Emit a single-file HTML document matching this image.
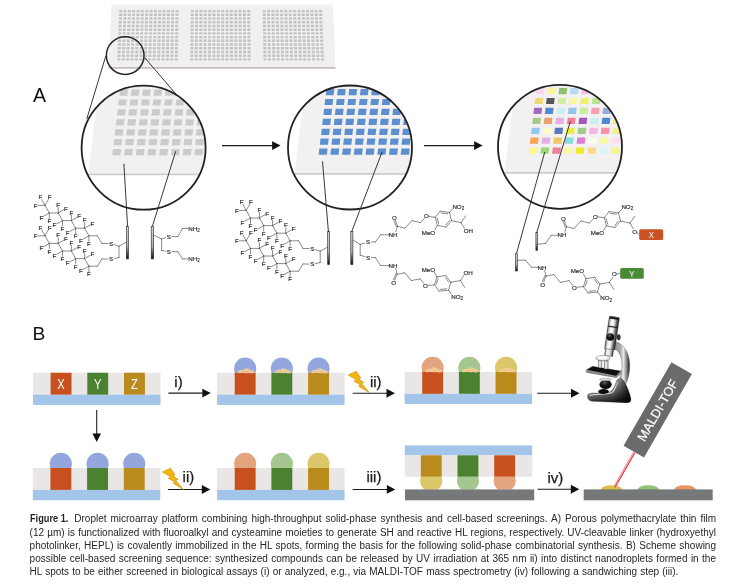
<!DOCTYPE html>
<html><head><meta charset="utf-8"><title>Figure 1</title>
<style>
html,body{margin:0;padding:0;background:#fff}
body{width:741px;height:586px;position:relative;overflow:hidden;font-family:"Liberation Sans", sans-serif}
svg{position:absolute;left:0;top:0;filter:blur(0.42px)}
.cl b{display:inline-block;transform:scaleX(.92);transform-origin:0 50%;margin-right:-5px}
.cl{filter:blur(0.3px);position:absolute;left:29.6px;height:13px;line-height:13px;font-size:10px;color:#262626;white-space:nowrap;text-align:justify;text-align-last:justify;font-family:"Liberation Sans", sans-serif}
</style></head><body>
<svg width="741" height="586" viewBox="0 0 741 586">
<defs>
<clipPath id="clip1"><circle cx="143.6" cy="147.7" r="61.6"/></clipPath>
<clipPath id="clip2"><circle cx="350.0" cy="147.5" r="61.6"/></clipPath>
<clipPath id="clip3"><circle cx="560.0" cy="146.8" r="61.6"/></clipPath>
<linearGradient id="barg" x1="0" y1="0" x2="0" y2="1"><stop offset="0" stop-color="#d2d2d2"/><stop offset="0.6" stop-color="#b4b4b4"/><stop offset="0.84" stop-color="#4a4a4a"/><stop offset="1" stop-color="#0c0c0c"/></linearGradient>
<clipPath id="dc217_372_0"><rect x="232.7" y="352.75" width="24.9" height="20"/></clipPath>
<clipPath id="dc217_372_1"><rect x="269.4" y="352.75" width="24.9" height="20"/></clipPath>
<clipPath id="dc217_372_2"><rect x="306.1" y="352.75" width="24.9" height="20"/></clipPath>
<clipPath id="dc404_371_0"><rect x="420.20000000000005" y="351.9" width="24.9" height="20"/></clipPath>
<clipPath id="dc404_371_1"><rect x="456.90000000000003" y="351.9" width="24.9" height="20"/></clipPath>
<clipPath id="dc404_371_2"><rect x="493.6" y="351.9" width="24.9" height="20"/></clipPath>
<clipPath id="dc32_468_0"><rect x="48.4" y="448.0" width="24.9" height="20"/></clipPath>
<clipPath id="dc32_468_1"><rect x="85.1" y="448.0" width="24.9" height="20"/></clipPath>
<clipPath id="dc32_468_2"><rect x="121.80000000000001" y="448.0" width="24.9" height="20"/></clipPath>
<clipPath id="dc217_468_0"><rect x="232.7" y="448.0" width="24.9" height="20"/></clipPath>
<clipPath id="dc217_468_1"><rect x="269.4" y="448.0" width="24.9" height="20"/></clipPath>
<clipPath id="dc217_468_2"><rect x="306.1" y="448.0" width="24.9" height="20"/></clipPath>
<clipPath id="sw0"><rect x="418.8" y="476.69999999999993" width="24.9" height="12.70"/></clipPath>
<clipPath id="sw1"><rect x="455.5" y="476.69999999999993" width="24.9" height="12.70"/></clipPath>
<clipPath id="sw2"><rect x="492.20000000000005" y="476.69999999999993" width="24.9" height="12.70"/></clipPath>
<linearGradient id="mtube" x1="0" y1="0" x2="1" y2="0"><stop offset="0" stop-color="#333"/><stop offset="0.08" stop-color="#999"/><stop offset="0.25" stop-color="#efefef"/><stop offset="0.45" stop-color="#fdfdfd"/><stop offset="0.62" stop-color="#c8c8c8"/><stop offset="0.78" stop-color="#6a6a6a"/><stop offset="1" stop-color="#1c1c1c"/></linearGradient>
<linearGradient id="mtube2" x1="0" y1="0" x2="1" y2="0"><stop offset="0" stop-color="#555"/><stop offset="0.2" stop-color="#f4f4f4"/><stop offset="0.6" stop-color="#e0e0e0"/><stop offset="0.85" stop-color="#777"/><stop offset="1" stop-color="#222"/></linearGradient>
<linearGradient id="marm" x1="0" y1="0" x2="1" y2="0"><stop offset="0" stop-color="#8a8a8a"/><stop offset="0.45" stop-color="#a8a8a8"/><stop offset="0.62" stop-color="#ececec"/><stop offset="0.78" stop-color="#9a9a9a"/><stop offset="1" stop-color="#1e1e1e"/></linearGradient>
<linearGradient id="mbase" x1="0" y1="0" x2="0.3" y2="1"><stop offset="0" stop-color="#e8e8e8"/><stop offset="0.3" stop-color="#b0b0b0"/><stop offset="0.65" stop-color="#6c6c6c"/><stop offset="1" stop-color="#222"/></linearGradient>
<radialGradient id="mball" cx="0.4" cy="0.3" r="0.75"><stop offset="0" stop-color="#5a5a5a"/><stop offset="0.45" stop-color="#161616"/><stop offset="1" stop-color="#000"/></radialGradient>
<linearGradient id="mobj" x1="0" y1="0" x2="1" y2="0"><stop offset="0" stop-color="#888"/><stop offset="0.4" stop-color="#fff"/><stop offset="1" stop-color="#999"/></linearGradient>
<linearGradient id="mhump" x1="0" y1="0" x2="1" y2="0"><stop offset="0" stop-color="#000" stop-opacity="0"/><stop offset="0.45" stop-color="#000" stop-opacity="0.35"/><stop offset="1" stop-color="#000" stop-opacity="0.85"/></linearGradient>
</defs>
<polygon points="111.6,4.4 332.9,4.4 335.4,67.4 108.4,67.4" fill="#f1eff0"/>
<polygon points="108.4,66.9 335.4,66.9 335.5,68.7 108.3,68.7" fill="#c6bfbf"/>
<path d="M119.27,9.90h2.96v2.4h-2.96zM123.61,9.90h2.96v2.4h-2.96zM127.94,9.90h2.96v2.4h-2.96zM132.28,9.90h2.96v2.4h-2.96zM136.61,9.90h2.96v2.4h-2.96zM140.94,9.90h2.96v2.4h-2.96zM145.28,9.90h2.96v2.4h-2.96zM149.61,9.90h2.96v2.4h-2.96zM153.95,9.90h2.96v2.4h-2.96zM158.28,9.90h2.96v2.4h-2.96zM162.62,9.90h2.96v2.4h-2.96zM166.95,9.90h2.96v2.4h-2.96zM171.29,9.90h2.96v2.4h-2.96zM175.62,9.90h2.96v2.4h-2.96zM119.12,13.62h2.96v2.4h-2.96zM123.46,13.62h2.96v2.4h-2.96zM127.80,13.62h2.96v2.4h-2.96zM132.14,13.62h2.96v2.4h-2.96zM136.48,13.62h2.96v2.4h-2.96zM140.82,13.62h2.96v2.4h-2.96zM145.16,13.62h2.96v2.4h-2.96zM149.50,13.62h2.96v2.4h-2.96zM153.85,13.62h2.96v2.4h-2.96zM158.19,13.62h2.96v2.4h-2.96zM162.53,13.62h2.96v2.4h-2.96zM166.87,13.62h2.96v2.4h-2.96zM171.21,13.62h2.96v2.4h-2.96zM175.55,13.62h2.96v2.4h-2.96zM118.96,17.33h2.97v2.4h-2.97zM123.31,17.33h2.97v2.4h-2.97zM127.66,17.33h2.97v2.4h-2.97zM132.01,17.33h2.97v2.4h-2.97zM136.35,17.33h2.97v2.4h-2.97zM140.70,17.33h2.97v2.4h-2.97zM145.05,17.33h2.97v2.4h-2.97zM149.40,17.33h2.97v2.4h-2.97zM153.74,17.33h2.97v2.4h-2.97zM158.09,17.33h2.97v2.4h-2.97zM162.44,17.33h2.97v2.4h-2.97zM166.79,17.33h2.97v2.4h-2.97zM171.13,17.33h2.97v2.4h-2.97zM175.48,17.33h2.97v2.4h-2.97zM118.81,21.05h2.97v2.4h-2.97zM123.16,21.05h2.97v2.4h-2.97zM127.52,21.05h2.97v2.4h-2.97zM131.87,21.05h2.97v2.4h-2.97zM136.22,21.05h2.97v2.4h-2.97zM140.58,21.05h2.97v2.4h-2.97zM144.93,21.05h2.97v2.4h-2.97zM149.29,21.05h2.97v2.4h-2.97zM153.64,21.05h2.97v2.4h-2.97zM158.00,21.05h2.97v2.4h-2.97zM162.35,21.05h2.97v2.4h-2.97zM166.70,21.05h2.97v2.4h-2.97zM171.06,21.05h2.97v2.4h-2.97zM175.41,21.05h2.97v2.4h-2.97zM118.65,24.76h2.97v2.4h-2.97zM123.01,24.76h2.97v2.4h-2.97zM127.38,24.76h2.97v2.4h-2.97zM131.74,24.76h2.97v2.4h-2.97zM136.10,24.76h2.97v2.4h-2.97zM140.46,24.76h2.97v2.4h-2.97zM144.82,24.76h2.97v2.4h-2.97zM149.18,24.76h2.97v2.4h-2.97zM153.54,24.76h2.97v2.4h-2.97zM157.90,24.76h2.97v2.4h-2.97zM162.26,24.76h2.97v2.4h-2.97zM166.62,24.76h2.97v2.4h-2.97zM170.98,24.76h2.97v2.4h-2.97zM175.34,24.76h2.97v2.4h-2.97zM118.50,28.48h2.98v2.4h-2.98zM122.87,28.48h2.98v2.4h-2.98zM127.23,28.48h2.98v2.4h-2.98zM131.60,28.48h2.98v2.4h-2.98zM135.97,28.48h2.98v2.4h-2.98zM140.34,28.48h2.98v2.4h-2.98zM144.70,28.48h2.98v2.4h-2.98zM149.07,28.48h2.98v2.4h-2.98zM153.44,28.48h2.98v2.4h-2.98zM157.80,28.48h2.98v2.4h-2.98zM162.17,28.48h2.98v2.4h-2.98zM166.54,28.48h2.98v2.4h-2.98zM170.91,28.48h2.98v2.4h-2.98zM175.27,28.48h2.98v2.4h-2.98zM118.34,32.19h2.98v2.4h-2.98zM122.72,32.19h2.98v2.4h-2.98zM127.09,32.19h2.98v2.4h-2.98zM131.47,32.19h2.98v2.4h-2.98zM135.84,32.19h2.98v2.4h-2.98zM140.21,32.19h2.98v2.4h-2.98zM144.59,32.19h2.98v2.4h-2.98zM148.96,32.19h2.98v2.4h-2.98zM153.33,32.19h2.98v2.4h-2.98zM157.71,32.19h2.98v2.4h-2.98zM162.08,32.19h2.98v2.4h-2.98zM166.45,32.19h2.98v2.4h-2.98zM170.83,32.19h2.98v2.4h-2.98zM175.20,32.19h2.98v2.4h-2.98zM118.19,35.91h2.99v2.4h-2.99zM122.57,35.91h2.99v2.4h-2.99zM126.95,35.91h2.99v2.4h-2.99zM131.33,35.91h2.99v2.4h-2.99zM135.71,35.91h2.99v2.4h-2.99zM140.09,35.91h2.99v2.4h-2.99zM144.47,35.91h2.99v2.4h-2.99zM148.85,35.91h2.99v2.4h-2.99zM153.23,35.91h2.99v2.4h-2.99zM157.61,35.91h2.99v2.4h-2.99zM161.99,35.91h2.99v2.4h-2.99zM166.37,35.91h2.99v2.4h-2.99zM170.75,35.91h2.99v2.4h-2.99zM175.13,35.91h2.99v2.4h-2.99zM118.04,39.62h2.99v2.4h-2.99zM122.42,39.62h2.99v2.4h-2.99zM126.81,39.62h2.99v2.4h-2.99zM131.20,39.62h2.99v2.4h-2.99zM135.58,39.62h2.99v2.4h-2.99zM139.97,39.62h2.99v2.4h-2.99zM144.36,39.62h2.99v2.4h-2.99zM148.74,39.62h2.99v2.4h-2.99zM153.13,39.62h2.99v2.4h-2.99zM157.52,39.62h2.99v2.4h-2.99zM161.90,39.62h2.99v2.4h-2.99zM166.29,39.62h2.99v2.4h-2.99zM170.68,39.62h2.99v2.4h-2.99zM175.06,39.62h2.99v2.4h-2.99zM117.88,43.34h3.00v2.4h-3.00zM122.27,43.34h3.00v2.4h-3.00zM126.67,43.34h3.00v2.4h-3.00zM131.06,43.34h3.00v2.4h-3.00zM135.45,43.34h3.00v2.4h-3.00zM139.85,43.34h3.00v2.4h-3.00zM144.24,43.34h3.00v2.4h-3.00zM148.63,43.34h3.00v2.4h-3.00zM153.03,43.34h3.00v2.4h-3.00zM157.42,43.34h3.00v2.4h-3.00zM161.81,43.34h3.00v2.4h-3.00zM166.21,43.34h3.00v2.4h-3.00zM170.60,43.34h3.00v2.4h-3.00zM174.99,43.34h3.00v2.4h-3.00zM117.73,47.05h3.00v2.4h-3.00zM122.13,47.05h3.00v2.4h-3.00zM126.53,47.05h3.00v2.4h-3.00zM130.93,47.05h3.00v2.4h-3.00zM135.33,47.05h3.00v2.4h-3.00zM139.73,47.05h3.00v2.4h-3.00zM144.13,47.05h3.00v2.4h-3.00zM148.52,47.05h3.00v2.4h-3.00zM152.92,47.05h3.00v2.4h-3.00zM157.32,47.05h3.00v2.4h-3.00zM161.72,47.05h3.00v2.4h-3.00zM166.12,47.05h3.00v2.4h-3.00zM170.52,47.05h3.00v2.4h-3.00zM174.92,47.05h3.00v2.4h-3.00zM117.57,50.76h3.01v2.4h-3.01zM121.98,50.76h3.01v2.4h-3.01zM126.39,50.76h3.01v2.4h-3.01zM130.79,50.76h3.01v2.4h-3.01zM135.20,50.76h3.01v2.4h-3.01zM139.60,50.76h3.01v2.4h-3.01zM144.01,50.76h3.01v2.4h-3.01zM148.42,50.76h3.01v2.4h-3.01zM152.82,50.76h3.01v2.4h-3.01zM157.23,50.76h3.01v2.4h-3.01zM161.63,50.76h3.01v2.4h-3.01zM166.04,50.76h3.01v2.4h-3.01zM170.45,50.76h3.01v2.4h-3.01zM174.85,50.76h3.01v2.4h-3.01zM117.42,54.48h3.01v2.4h-3.01zM121.83,54.48h3.01v2.4h-3.01zM126.24,54.48h3.01v2.4h-3.01zM130.66,54.48h3.01v2.4h-3.01zM135.07,54.48h3.01v2.4h-3.01zM139.48,54.48h3.01v2.4h-3.01zM143.89,54.48h3.01v2.4h-3.01zM148.31,54.48h3.01v2.4h-3.01zM152.72,54.48h3.01v2.4h-3.01zM157.13,54.48h3.01v2.4h-3.01zM161.55,54.48h3.01v2.4h-3.01zM165.96,54.48h3.01v2.4h-3.01zM170.37,54.48h3.01v2.4h-3.01zM174.78,54.48h3.01v2.4h-3.01zM117.26,58.20h3.01v2.4h-3.01zM121.68,58.20h3.01v2.4h-3.01zM126.10,58.20h3.01v2.4h-3.01zM130.52,58.20h3.01v2.4h-3.01zM134.94,58.20h3.01v2.4h-3.01zM139.36,58.20h3.01v2.4h-3.01zM143.78,58.20h3.01v2.4h-3.01zM148.20,58.20h3.01v2.4h-3.01zM152.62,58.20h3.01v2.4h-3.01zM157.04,58.20h3.01v2.4h-3.01zM161.46,58.20h3.01v2.4h-3.01zM165.87,58.20h3.01v2.4h-3.01zM170.29,58.20h3.01v2.4h-3.01zM174.71,58.20h3.01v2.4h-3.01zM190.83,9.90h2.96v2.4h-2.96zM195.16,9.90h2.96v2.4h-2.96zM199.50,9.90h2.96v2.4h-2.96zM203.83,9.90h2.96v2.4h-2.96zM208.17,9.90h2.96v2.4h-2.96zM212.50,9.90h2.96v2.4h-2.96zM216.84,9.90h2.96v2.4h-2.96zM221.17,9.90h2.96v2.4h-2.96zM225.51,9.90h2.96v2.4h-2.96zM229.84,9.90h2.96v2.4h-2.96zM234.18,9.90h2.96v2.4h-2.96zM238.51,9.90h2.96v2.4h-2.96zM242.85,9.90h2.96v2.4h-2.96zM247.18,9.90h2.96v2.4h-2.96zM190.78,13.62h2.96v2.4h-2.96zM195.12,13.62h2.96v2.4h-2.96zM199.47,13.62h2.96v2.4h-2.96zM203.81,13.62h2.96v2.4h-2.96zM208.15,13.62h2.96v2.4h-2.96zM212.49,13.62h2.96v2.4h-2.96zM216.83,13.62h2.96v2.4h-2.96zM221.17,13.62h2.96v2.4h-2.96zM225.51,13.62h2.96v2.4h-2.96zM229.85,13.62h2.96v2.4h-2.96zM234.19,13.62h2.96v2.4h-2.96zM238.54,13.62h2.96v2.4h-2.96zM242.88,13.62h2.96v2.4h-2.96zM247.22,13.62h2.96v2.4h-2.96zM190.74,17.33h2.97v2.4h-2.97zM195.08,17.33h2.97v2.4h-2.97zM199.43,17.33h2.97v2.4h-2.97zM203.78,17.33h2.97v2.4h-2.97zM208.13,17.33h2.97v2.4h-2.97zM212.47,17.33h2.97v2.4h-2.97zM216.82,17.33h2.97v2.4h-2.97zM221.17,17.33h2.97v2.4h-2.97zM225.52,17.33h2.97v2.4h-2.97zM229.86,17.33h2.97v2.4h-2.97zM234.21,17.33h2.97v2.4h-2.97zM238.56,17.33h2.97v2.4h-2.97zM242.91,17.33h2.97v2.4h-2.97zM247.26,17.33h2.97v2.4h-2.97zM190.69,21.05h2.97v2.4h-2.97zM195.04,21.05h2.97v2.4h-2.97zM199.40,21.05h2.97v2.4h-2.97zM203.75,21.05h2.97v2.4h-2.97zM208.11,21.05h2.97v2.4h-2.97zM212.46,21.05h2.97v2.4h-2.97zM216.81,21.05h2.97v2.4h-2.97zM221.17,21.05h2.97v2.4h-2.97zM225.52,21.05h2.97v2.4h-2.97zM229.88,21.05h2.97v2.4h-2.97zM234.23,21.05h2.97v2.4h-2.97zM238.58,21.05h2.97v2.4h-2.97zM242.94,21.05h2.97v2.4h-2.97zM247.29,21.05h2.97v2.4h-2.97zM190.64,24.76h2.97v2.4h-2.97zM195.00,24.76h2.97v2.4h-2.97zM199.36,24.76h2.97v2.4h-2.97zM203.72,24.76h2.97v2.4h-2.97zM208.08,24.76h2.97v2.4h-2.97zM212.45,24.76h2.97v2.4h-2.97zM216.81,24.76h2.97v2.4h-2.97zM221.17,24.76h2.97v2.4h-2.97zM225.53,24.76h2.97v2.4h-2.97zM229.89,24.76h2.97v2.4h-2.97zM234.25,24.76h2.97v2.4h-2.97zM238.61,24.76h2.97v2.4h-2.97zM242.97,24.76h2.97v2.4h-2.97zM247.33,24.76h2.97v2.4h-2.97zM190.60,28.48h2.98v2.4h-2.98zM194.96,28.48h2.98v2.4h-2.98zM199.33,28.48h2.98v2.4h-2.98zM203.70,28.48h2.98v2.4h-2.98zM208.06,28.48h2.98v2.4h-2.98zM212.43,28.48h2.98v2.4h-2.98zM216.80,28.48h2.98v2.4h-2.98zM221.17,28.48h2.98v2.4h-2.98zM225.53,28.48h2.98v2.4h-2.98zM229.90,28.48h2.98v2.4h-2.98zM234.27,28.48h2.98v2.4h-2.98zM238.63,28.48h2.98v2.4h-2.98zM243.00,28.48h2.98v2.4h-2.98zM247.37,28.48h2.98v2.4h-2.98zM190.55,32.19h2.98v2.4h-2.98zM194.92,32.19h2.98v2.4h-2.98zM199.30,32.19h2.98v2.4h-2.98zM203.67,32.19h2.98v2.4h-2.98zM208.04,32.19h2.98v2.4h-2.98zM212.42,32.19h2.98v2.4h-2.98zM216.79,32.19h2.98v2.4h-2.98zM221.16,32.19h2.98v2.4h-2.98zM225.54,32.19h2.98v2.4h-2.98zM229.91,32.19h2.98v2.4h-2.98zM234.28,32.19h2.98v2.4h-2.98zM238.66,32.19h2.98v2.4h-2.98zM243.03,32.19h2.98v2.4h-2.98zM247.41,32.19h2.98v2.4h-2.98zM190.50,35.91h2.99v2.4h-2.99zM194.88,35.91h2.99v2.4h-2.99zM199.26,35.91h2.99v2.4h-2.99zM203.64,35.91h2.99v2.4h-2.99zM208.02,35.91h2.99v2.4h-2.99zM212.40,35.91h2.99v2.4h-2.99zM216.78,35.91h2.99v2.4h-2.99zM221.16,35.91h2.99v2.4h-2.99zM225.54,35.91h2.99v2.4h-2.99zM229.92,35.91h2.99v2.4h-2.99zM234.30,35.91h2.99v2.4h-2.99zM238.68,35.91h2.99v2.4h-2.99zM243.06,35.91h2.99v2.4h-2.99zM247.44,35.91h2.99v2.4h-2.99zM190.45,39.62h2.99v2.4h-2.99zM194.84,39.62h2.99v2.4h-2.99zM199.23,39.62h2.99v2.4h-2.99zM203.61,39.62h2.99v2.4h-2.99zM208.00,39.62h2.99v2.4h-2.99zM212.39,39.62h2.99v2.4h-2.99zM216.77,39.62h2.99v2.4h-2.99zM221.16,39.62h2.99v2.4h-2.99zM225.55,39.62h2.99v2.4h-2.99zM229.93,39.62h2.99v2.4h-2.99zM234.32,39.62h2.99v2.4h-2.99zM238.71,39.62h2.99v2.4h-2.99zM243.09,39.62h2.99v2.4h-2.99zM247.48,39.62h2.99v2.4h-2.99zM190.41,43.34h3.00v2.4h-3.00zM194.80,43.34h3.00v2.4h-3.00zM199.19,43.34h3.00v2.4h-3.00zM203.59,43.34h3.00v2.4h-3.00zM207.98,43.34h3.00v2.4h-3.00zM212.37,43.34h3.00v2.4h-3.00zM216.77,43.34h3.00v2.4h-3.00zM221.16,43.34h3.00v2.4h-3.00zM225.55,43.34h3.00v2.4h-3.00zM229.95,43.34h3.00v2.4h-3.00zM234.34,43.34h3.00v2.4h-3.00zM238.73,43.34h3.00v2.4h-3.00zM243.12,43.34h3.00v2.4h-3.00zM247.52,43.34h3.00v2.4h-3.00zM190.36,47.05h3.00v2.4h-3.00zM194.76,47.05h3.00v2.4h-3.00zM199.16,47.05h3.00v2.4h-3.00zM203.56,47.05h3.00v2.4h-3.00zM207.96,47.05h3.00v2.4h-3.00zM212.36,47.05h3.00v2.4h-3.00zM216.76,47.05h3.00v2.4h-3.00zM221.16,47.05h3.00v2.4h-3.00zM225.56,47.05h3.00v2.4h-3.00zM229.96,47.05h3.00v2.4h-3.00zM234.36,47.05h3.00v2.4h-3.00zM238.76,47.05h3.00v2.4h-3.00zM243.16,47.05h3.00v2.4h-3.00zM247.56,47.05h3.00v2.4h-3.00zM190.31,50.76h3.01v2.4h-3.01zM194.72,50.76h3.01v2.4h-3.01zM199.12,50.76h3.01v2.4h-3.01zM203.53,50.76h3.01v2.4h-3.01zM207.94,50.76h3.01v2.4h-3.01zM212.34,50.76h3.01v2.4h-3.01zM216.75,50.76h3.01v2.4h-3.01zM221.16,50.76h3.01v2.4h-3.01zM225.56,50.76h3.01v2.4h-3.01zM229.97,50.76h3.01v2.4h-3.01zM234.37,50.76h3.01v2.4h-3.01zM238.78,50.76h3.01v2.4h-3.01zM243.19,50.76h3.01v2.4h-3.01zM247.59,50.76h3.01v2.4h-3.01zM190.27,54.48h3.01v2.4h-3.01zM194.68,54.48h3.01v2.4h-3.01zM199.09,54.48h3.01v2.4h-3.01zM203.50,54.48h3.01v2.4h-3.01zM207.92,54.48h3.01v2.4h-3.01zM212.33,54.48h3.01v2.4h-3.01zM216.74,54.48h3.01v2.4h-3.01zM221.15,54.48h3.01v2.4h-3.01zM225.57,54.48h3.01v2.4h-3.01zM229.98,54.48h3.01v2.4h-3.01zM234.39,54.48h3.01v2.4h-3.01zM238.80,54.48h3.01v2.4h-3.01zM243.22,54.48h3.01v2.4h-3.01zM247.63,54.48h3.01v2.4h-3.01zM190.22,58.20h3.01v2.4h-3.01zM194.64,58.20h3.01v2.4h-3.01zM199.06,58.20h3.01v2.4h-3.01zM203.48,58.20h3.01v2.4h-3.01zM207.90,58.20h3.01v2.4h-3.01zM212.31,58.20h3.01v2.4h-3.01zM216.73,58.20h3.01v2.4h-3.01zM221.15,58.20h3.01v2.4h-3.01zM225.57,58.20h3.01v2.4h-3.01zM229.99,58.20h3.01v2.4h-3.01zM234.41,58.20h3.01v2.4h-3.01zM238.83,58.20h3.01v2.4h-3.01zM243.25,58.20h3.01v2.4h-3.01zM247.67,58.20h3.01v2.4h-3.01zM262.69,9.90h2.96v2.4h-2.96zM267.02,9.90h2.96v2.4h-2.96zM271.36,9.90h2.96v2.4h-2.96zM275.69,9.90h2.96v2.4h-2.96zM280.03,9.90h2.96v2.4h-2.96zM284.36,9.90h2.96v2.4h-2.96zM288.70,9.90h2.96v2.4h-2.96zM293.03,9.90h2.96v2.4h-2.96zM297.37,9.90h2.96v2.4h-2.96zM301.70,9.90h2.96v2.4h-2.96zM306.04,9.90h2.96v2.4h-2.96zM310.37,9.90h2.96v2.4h-2.96zM314.71,9.90h2.96v2.4h-2.96zM319.04,9.90h2.96v2.4h-2.96zM262.75,13.62h2.96v2.4h-2.96zM267.09,13.62h2.96v2.4h-2.96zM271.43,13.62h2.96v2.4h-2.96zM275.77,13.62h2.96v2.4h-2.96zM280.12,13.62h2.96v2.4h-2.96zM284.46,13.62h2.96v2.4h-2.96zM288.80,13.62h2.96v2.4h-2.96zM293.14,13.62h2.96v2.4h-2.96zM297.48,13.62h2.96v2.4h-2.96zM301.82,13.62h2.96v2.4h-2.96zM306.16,13.62h2.96v2.4h-2.96zM310.50,13.62h2.96v2.4h-2.96zM314.84,13.62h2.96v2.4h-2.96zM319.19,13.62h2.96v2.4h-2.96zM262.81,17.33h2.97v2.4h-2.97zM267.16,17.33h2.97v2.4h-2.97zM271.51,17.33h2.97v2.4h-2.97zM275.85,17.33h2.97v2.4h-2.97zM280.20,17.33h2.97v2.4h-2.97zM284.55,17.33h2.97v2.4h-2.97zM288.90,17.33h2.97v2.4h-2.97zM293.24,17.33h2.97v2.4h-2.97zM297.59,17.33h2.97v2.4h-2.97zM301.94,17.33h2.97v2.4h-2.97zM306.29,17.33h2.97v2.4h-2.97zM310.64,17.33h2.97v2.4h-2.97zM314.98,17.33h2.97v2.4h-2.97zM319.33,17.33h2.97v2.4h-2.97zM262.87,21.05h2.97v2.4h-2.97zM267.23,21.05h2.97v2.4h-2.97zM271.58,21.05h2.97v2.4h-2.97zM275.93,21.05h2.97v2.4h-2.97zM280.29,21.05h2.97v2.4h-2.97zM284.64,21.05h2.97v2.4h-2.97zM289.00,21.05h2.97v2.4h-2.97zM293.35,21.05h2.97v2.4h-2.97zM297.71,21.05h2.97v2.4h-2.97zM302.06,21.05h2.97v2.4h-2.97zM306.41,21.05h2.97v2.4h-2.97zM310.77,21.05h2.97v2.4h-2.97zM315.12,21.05h2.97v2.4h-2.97zM319.48,21.05h2.97v2.4h-2.97zM262.93,24.76h2.97v2.4h-2.97zM267.29,24.76h2.97v2.4h-2.97zM271.65,24.76h2.97v2.4h-2.97zM276.01,24.76h2.97v2.4h-2.97zM280.38,24.76h2.97v2.4h-2.97zM284.74,24.76h2.97v2.4h-2.97zM289.10,24.76h2.97v2.4h-2.97zM293.46,24.76h2.97v2.4h-2.97zM297.82,24.76h2.97v2.4h-2.97zM302.18,24.76h2.97v2.4h-2.97zM306.54,24.76h2.97v2.4h-2.97zM310.90,24.76h2.97v2.4h-2.97zM315.26,24.76h2.97v2.4h-2.97zM319.62,24.76h2.97v2.4h-2.97zM262.99,28.48h2.98v2.4h-2.98zM267.36,28.48h2.98v2.4h-2.98zM271.73,28.48h2.98v2.4h-2.98zM276.10,28.48h2.98v2.4h-2.98zM280.46,28.48h2.98v2.4h-2.98zM284.83,28.48h2.98v2.4h-2.98zM289.20,28.48h2.98v2.4h-2.98zM293.56,28.48h2.98v2.4h-2.98zM297.93,28.48h2.98v2.4h-2.98zM302.30,28.48h2.98v2.4h-2.98zM306.67,28.48h2.98v2.4h-2.98zM311.03,28.48h2.98v2.4h-2.98zM315.40,28.48h2.98v2.4h-2.98zM319.77,28.48h2.98v2.4h-2.98zM263.05,32.19h2.98v2.4h-2.98zM267.43,32.19h2.98v2.4h-2.98zM271.80,32.19h2.98v2.4h-2.98zM276.18,32.19h2.98v2.4h-2.98zM280.55,32.19h2.98v2.4h-2.98zM284.92,32.19h2.98v2.4h-2.98zM289.30,32.19h2.98v2.4h-2.98zM293.67,32.19h2.98v2.4h-2.98zM298.04,32.19h2.98v2.4h-2.98zM302.42,32.19h2.98v2.4h-2.98zM306.79,32.19h2.98v2.4h-2.98zM311.16,32.19h2.98v2.4h-2.98zM315.54,32.19h2.98v2.4h-2.98zM319.91,32.19h2.98v2.4h-2.98zM263.12,35.91h2.99v2.4h-2.99zM267.50,35.91h2.99v2.4h-2.99zM271.88,35.91h2.99v2.4h-2.99zM276.26,35.91h2.99v2.4h-2.99zM280.64,35.91h2.99v2.4h-2.99zM285.02,35.91h2.99v2.4h-2.99zM289.40,35.91h2.99v2.4h-2.99zM293.78,35.91h2.99v2.4h-2.99zM298.16,35.91h2.99v2.4h-2.99zM302.54,35.91h2.99v2.4h-2.99zM306.92,35.91h2.99v2.4h-2.99zM311.30,35.91h2.99v2.4h-2.99zM315.68,35.91h2.99v2.4h-2.99zM320.06,35.91h2.99v2.4h-2.99zM263.18,39.62h2.99v2.4h-2.99zM267.56,39.62h2.99v2.4h-2.99zM271.95,39.62h2.99v2.4h-2.99zM276.34,39.62h2.99v2.4h-2.99zM280.72,39.62h2.99v2.4h-2.99zM285.11,39.62h2.99v2.4h-2.99zM289.50,39.62h2.99v2.4h-2.99zM293.88,39.62h2.99v2.4h-2.99zM298.27,39.62h2.99v2.4h-2.99zM302.66,39.62h2.99v2.4h-2.99zM307.04,39.62h2.99v2.4h-2.99zM311.43,39.62h2.99v2.4h-2.99zM315.82,39.62h2.99v2.4h-2.99zM320.20,39.62h2.99v2.4h-2.99zM263.24,43.34h3.00v2.4h-3.00zM267.63,43.34h3.00v2.4h-3.00zM272.02,43.34h3.00v2.4h-3.00zM276.42,43.34h3.00v2.4h-3.00zM280.81,43.34h3.00v2.4h-3.00zM285.20,43.34h3.00v2.4h-3.00zM289.60,43.34h3.00v2.4h-3.00zM293.99,43.34h3.00v2.4h-3.00zM298.38,43.34h3.00v2.4h-3.00zM302.77,43.34h3.00v2.4h-3.00zM307.17,43.34h3.00v2.4h-3.00zM311.56,43.34h3.00v2.4h-3.00zM315.95,43.34h3.00v2.4h-3.00zM320.35,43.34h3.00v2.4h-3.00zM263.30,47.05h3.00v2.4h-3.00zM267.70,47.05h3.00v2.4h-3.00zM272.10,47.05h3.00v2.4h-3.00zM276.50,47.05h3.00v2.4h-3.00zM280.90,47.05h3.00v2.4h-3.00zM285.30,47.05h3.00v2.4h-3.00zM289.70,47.05h3.00v2.4h-3.00zM294.09,47.05h3.00v2.4h-3.00zM298.49,47.05h3.00v2.4h-3.00zM302.89,47.05h3.00v2.4h-3.00zM307.29,47.05h3.00v2.4h-3.00zM311.69,47.05h3.00v2.4h-3.00zM316.09,47.05h3.00v2.4h-3.00zM320.49,47.05h3.00v2.4h-3.00zM263.36,50.76h3.01v2.4h-3.01zM267.76,50.76h3.01v2.4h-3.01zM272.17,50.76h3.01v2.4h-3.01zM276.58,50.76h3.01v2.4h-3.01zM280.98,50.76h3.01v2.4h-3.01zM285.39,50.76h3.01v2.4h-3.01zM289.80,50.76h3.01v2.4h-3.01zM294.20,50.76h3.01v2.4h-3.01zM298.61,50.76h3.01v2.4h-3.01zM303.01,50.76h3.01v2.4h-3.01zM307.42,50.76h3.01v2.4h-3.01zM311.83,50.76h3.01v2.4h-3.01zM316.23,50.76h3.01v2.4h-3.01zM320.64,50.76h3.01v2.4h-3.01zM263.42,54.48h3.01v2.4h-3.01zM267.83,54.48h3.01v2.4h-3.01zM272.24,54.48h3.01v2.4h-3.01zM276.66,54.48h3.01v2.4h-3.01zM281.07,54.48h3.01v2.4h-3.01zM285.48,54.48h3.01v2.4h-3.01zM289.89,54.48h3.01v2.4h-3.01zM294.31,54.48h3.01v2.4h-3.01zM298.72,54.48h3.01v2.4h-3.01zM303.13,54.48h3.01v2.4h-3.01zM307.55,54.48h3.01v2.4h-3.01zM311.96,54.48h3.01v2.4h-3.01zM316.37,54.48h3.01v2.4h-3.01zM320.78,54.48h3.01v2.4h-3.01zM263.48,58.20h3.01v2.4h-3.01zM267.90,58.20h3.01v2.4h-3.01zM272.32,58.20h3.01v2.4h-3.01zM276.74,58.20h3.01v2.4h-3.01zM281.16,58.20h3.01v2.4h-3.01zM285.58,58.20h3.01v2.4h-3.01zM289.99,58.20h3.01v2.4h-3.01zM294.41,58.20h3.01v2.4h-3.01zM298.83,58.20h3.01v2.4h-3.01zM303.25,58.20h3.01v2.4h-3.01zM307.67,58.20h3.01v2.4h-3.01zM312.09,58.20h3.01v2.4h-3.01zM316.51,58.20h3.01v2.4h-3.01zM320.93,58.20h3.01v2.4h-3.01z" fill="#c4c3c3"/>
<circle cx="125.2" cy="55.6" r="18.8" fill="none" stroke="#262626" stroke-width="1.5"/>
<path d="M105.8,56L86.8,118.8 M144.6,57.5L177.3,95.7" stroke="#2a2a2a" stroke-width="0.95" fill="none"/>
<circle cx="143.6" cy="147.7" r="62" fill="#fff"/>
<g clip-path="url(#clip1)"><g transform="translate(0,0)">
<polygon points="99.69,80 230,80 230,173.6 88.27,173.6" fill="#f2f0f1"/>
<polygon points="88.29,173.4 230,173.4 230,175.2 88.07,175.2" fill="#cfcbca"/>
<polygon points="120.07,89.50 127.97,89.50 127.23,95.70 119.33,95.70" fill="#cccbc9"/>
<polygon points="131.47,89.50 139.37,89.50 138.63,95.70 130.73,95.70" fill="#cccbc9"/>
<polygon points="142.87,89.50 150.77,89.50 150.03,95.70 142.13,95.70" fill="#cccbc9"/>
<polygon points="154.27,89.50 162.17,89.50 161.43,95.70 153.53,95.70" fill="#cccbc9"/>
<polygon points="165.67,89.50 173.57,89.50 172.83,95.70 164.93,95.70" fill="#cccbc9"/>
<polygon points="177.07,89.50 184.97,89.50 184.23,95.70 176.33,95.70" fill="#cccbc9"/>
<polygon points="188.47,89.50 196.37,89.50 195.63,95.70 187.73,95.70" fill="#cccbc9"/>
<polygon points="199.87,89.50 207.77,89.50 207.03,95.70 199.13,95.70" fill="#cccbc9"/>
<polygon points="211.27,89.50 219.17,89.50 218.43,95.70 210.53,95.70" fill="#cccbc9"/>
<polygon points="118.89,99.42 126.84,99.42 126.10,105.62 118.15,105.62" fill="#cccbc9"/>
<polygon points="130.34,99.42 138.29,99.42 137.56,105.62 129.61,105.62" fill="#cccbc9"/>
<polygon points="141.80,99.42 149.75,99.42 149.01,105.62 141.06,105.62" fill="#cccbc9"/>
<polygon points="153.25,99.42 161.20,99.42 160.47,105.62 152.52,105.62" fill="#cccbc9"/>
<polygon points="164.71,99.42 172.66,99.42 171.92,105.62 163.97,105.62" fill="#cccbc9"/>
<polygon points="176.16,99.42 184.11,99.42 183.38,105.62 175.43,105.62" fill="#cccbc9"/>
<polygon points="187.62,99.42 195.57,99.42 194.83,105.62 186.88,105.62" fill="#cccbc9"/>
<polygon points="199.07,99.42 207.02,99.42 206.29,105.62 198.34,105.62" fill="#cccbc9"/>
<polygon points="210.53,99.42 218.48,99.42 217.74,105.62 209.79,105.62" fill="#cccbc9"/>
<polygon points="117.71,109.34 125.71,109.34 124.97,115.54 116.97,115.54" fill="#cccbc9"/>
<polygon points="129.22,109.34 137.22,109.34 136.48,115.54 128.48,115.54" fill="#cccbc9"/>
<polygon points="140.73,109.34 148.73,109.34 147.99,115.54 139.99,115.54" fill="#cccbc9"/>
<polygon points="152.24,109.34 160.24,109.34 159.50,115.54 151.50,115.54" fill="#cccbc9"/>
<polygon points="163.75,109.34 171.75,109.34 171.01,115.54 163.01,115.54" fill="#cccbc9"/>
<polygon points="175.26,109.34 183.26,109.34 182.52,115.54 174.52,115.54" fill="#cccbc9"/>
<polygon points="186.77,109.34 194.77,109.34 194.03,115.54 186.03,115.54" fill="#cccbc9"/>
<polygon points="198.28,109.34 206.28,109.34 205.54,115.54 197.54,115.54" fill="#cccbc9"/>
<polygon points="209.79,109.34 217.79,109.34 217.05,115.54 209.05,115.54" fill="#cccbc9"/>
<polygon points="116.53,119.26 124.58,119.26 123.84,125.46 115.79,125.46" fill="#cccbc9"/>
<polygon points="128.09,119.26 136.14,119.26 135.41,125.46 127.36,125.46" fill="#cccbc9"/>
<polygon points="139.66,119.26 147.71,119.26 146.97,125.46 138.92,125.46" fill="#cccbc9"/>
<polygon points="151.22,119.26 159.27,119.26 158.54,125.46 150.49,125.46" fill="#cccbc9"/>
<polygon points="162.79,119.26 170.84,119.26 170.10,125.46 162.05,125.46" fill="#cccbc9"/>
<polygon points="174.35,119.26 182.40,119.26 181.67,125.46 173.62,125.46" fill="#cccbc9"/>
<polygon points="185.92,119.26 193.97,119.26 193.23,125.46 185.18,125.46" fill="#cccbc9"/>
<polygon points="197.48,119.26 205.53,119.26 204.80,125.46 196.75,125.46" fill="#cccbc9"/>
<polygon points="209.05,119.26 217.10,119.26 216.36,125.46 208.31,125.46" fill="#cccbc9"/>
<polygon points="115.35,129.18 123.45,129.18 122.71,135.38 114.61,135.38" fill="#cccbc9"/>
<polygon points="126.97,129.18 135.07,129.18 134.33,135.38 126.23,135.38" fill="#cccbc9"/>
<polygon points="138.59,129.18 146.69,129.18 145.95,135.38 137.85,135.38" fill="#cccbc9"/>
<polygon points="150.21,129.18 158.31,129.18 157.57,135.38 149.47,135.38" fill="#cccbc9"/>
<polygon points="161.83,129.18 169.93,129.18 169.19,135.38 161.09,135.38" fill="#cccbc9"/>
<polygon points="173.45,129.18 181.55,129.18 180.81,135.38 172.71,135.38" fill="#cccbc9"/>
<polygon points="185.07,129.18 193.17,129.18 192.43,135.38 184.33,135.38" fill="#cccbc9"/>
<polygon points="196.69,129.18 204.79,129.18 204.05,135.38 195.95,135.38" fill="#cccbc9"/>
<polygon points="208.31,129.18 216.41,129.18 215.67,135.38 207.57,135.38" fill="#cccbc9"/>
<polygon points="114.17,139.10 122.32,139.10 121.58,145.30 113.43,145.30" fill="#cccbc9"/>
<polygon points="125.84,139.10 133.99,139.10 133.26,145.30 125.11,145.30" fill="#cccbc9"/>
<polygon points="137.52,139.10 145.67,139.10 144.93,145.30 136.78,145.30" fill="#cccbc9"/>
<polygon points="149.19,139.10 157.34,139.10 156.61,145.30 148.46,145.30" fill="#cccbc9"/>
<polygon points="160.87,139.10 169.02,139.10 168.28,145.30 160.13,145.30" fill="#cccbc9"/>
<polygon points="172.54,139.10 180.69,139.10 179.96,145.30 171.81,145.30" fill="#cccbc9"/>
<polygon points="184.22,139.10 192.37,139.10 191.63,145.30 183.48,145.30" fill="#cccbc9"/>
<polygon points="195.89,139.10 204.04,139.10 203.31,145.30 195.16,145.30" fill="#cccbc9"/>
<polygon points="207.57,139.10 215.72,139.10 214.98,145.30 206.83,145.30" fill="#cccbc9"/>
<polygon points="112.99,149.02 121.19,149.02 120.45,155.22 112.25,155.22" fill="#cccbc9"/>
<polygon points="124.72,149.02 132.92,149.02 132.18,155.22 123.98,155.22" fill="#cccbc9"/>
<polygon points="136.45,149.02 144.65,149.02 143.91,155.22 135.71,155.22" fill="#cccbc9"/>
<polygon points="148.18,149.02 156.38,149.02 155.64,155.22 147.44,155.22" fill="#cccbc9"/>
<polygon points="159.91,149.02 168.11,149.02 167.37,155.22 159.17,155.22" fill="#cccbc9"/>
<polygon points="171.64,149.02 179.84,149.02 179.10,155.22 170.90,155.22" fill="#cccbc9"/>
<polygon points="183.37,149.02 191.57,149.02 190.83,155.22 182.63,155.22" fill="#cccbc9"/>
<polygon points="195.10,149.02 203.30,149.02 202.56,155.22 194.36,155.22" fill="#cccbc9"/>
<polygon points="206.83,149.02 215.03,149.02 214.29,155.22 206.09,155.22" fill="#cccbc9"/>
</g></g>
<circle cx="143.6" cy="147.7" r="62" fill="none" stroke="#222" stroke-width="1.8"/>
<circle cx="350.0" cy="147.5" r="62" fill="#fff"/>
<g clip-path="url(#clip2)"><g transform="translate(206.4,-0.5)">
<polygon points="99.69,80 230,80 230,173.6 88.27,173.6" fill="#f2f0f1"/>
<polygon points="88.29,173.4 230,173.4 230,175.2 88.07,175.2" fill="#cfcbca"/>
<polygon points="120.07,89.50 127.97,89.50 127.23,95.70 119.33,95.70" fill="#5b8fcf"/>
<polygon points="131.47,89.50 139.37,89.50 138.63,95.70 130.73,95.70" fill="#5b8fcf"/>
<polygon points="142.87,89.50 150.77,89.50 150.03,95.70 142.13,95.70" fill="#5b8fcf"/>
<polygon points="154.27,89.50 162.17,89.50 161.43,95.70 153.53,95.70" fill="#5b8fcf"/>
<polygon points="165.67,89.50 173.57,89.50 172.83,95.70 164.93,95.70" fill="#5b8fcf"/>
<polygon points="177.07,89.50 184.97,89.50 184.23,95.70 176.33,95.70" fill="#5b8fcf"/>
<polygon points="188.47,89.50 196.37,89.50 195.63,95.70 187.73,95.70" fill="#5b8fcf"/>
<polygon points="199.87,89.50 207.77,89.50 207.03,95.70 199.13,95.70" fill="#5b8fcf"/>
<polygon points="211.27,89.50 219.17,89.50 218.43,95.70 210.53,95.70" fill="#5b8fcf"/>
<polygon points="118.89,99.42 126.84,99.42 126.10,105.62 118.15,105.62" fill="#5b8fcf"/>
<polygon points="130.34,99.42 138.29,99.42 137.56,105.62 129.61,105.62" fill="#5b8fcf"/>
<polygon points="141.80,99.42 149.75,99.42 149.01,105.62 141.06,105.62" fill="#5b8fcf"/>
<polygon points="153.25,99.42 161.20,99.42 160.47,105.62 152.52,105.62" fill="#5b8fcf"/>
<polygon points="164.71,99.42 172.66,99.42 171.92,105.62 163.97,105.62" fill="#5b8fcf"/>
<polygon points="176.16,99.42 184.11,99.42 183.38,105.62 175.43,105.62" fill="#5b8fcf"/>
<polygon points="187.62,99.42 195.57,99.42 194.83,105.62 186.88,105.62" fill="#5b8fcf"/>
<polygon points="199.07,99.42 207.02,99.42 206.29,105.62 198.34,105.62" fill="#5b8fcf"/>
<polygon points="210.53,99.42 218.48,99.42 217.74,105.62 209.79,105.62" fill="#5b8fcf"/>
<polygon points="117.71,109.34 125.71,109.34 124.97,115.54 116.97,115.54" fill="#5b8fcf"/>
<polygon points="129.22,109.34 137.22,109.34 136.48,115.54 128.48,115.54" fill="#5b8fcf"/>
<polygon points="140.73,109.34 148.73,109.34 147.99,115.54 139.99,115.54" fill="#5b8fcf"/>
<polygon points="152.24,109.34 160.24,109.34 159.50,115.54 151.50,115.54" fill="#5b8fcf"/>
<polygon points="163.75,109.34 171.75,109.34 171.01,115.54 163.01,115.54" fill="#5b8fcf"/>
<polygon points="175.26,109.34 183.26,109.34 182.52,115.54 174.52,115.54" fill="#5b8fcf"/>
<polygon points="186.77,109.34 194.77,109.34 194.03,115.54 186.03,115.54" fill="#5b8fcf"/>
<polygon points="198.28,109.34 206.28,109.34 205.54,115.54 197.54,115.54" fill="#5b8fcf"/>
<polygon points="209.79,109.34 217.79,109.34 217.05,115.54 209.05,115.54" fill="#5b8fcf"/>
<polygon points="116.53,119.26 124.58,119.26 123.84,125.46 115.79,125.46" fill="#5b8fcf"/>
<polygon points="128.09,119.26 136.14,119.26 135.41,125.46 127.36,125.46" fill="#5b8fcf"/>
<polygon points="139.66,119.26 147.71,119.26 146.97,125.46 138.92,125.46" fill="#5b8fcf"/>
<polygon points="151.22,119.26 159.27,119.26 158.54,125.46 150.49,125.46" fill="#5b8fcf"/>
<polygon points="162.79,119.26 170.84,119.26 170.10,125.46 162.05,125.46" fill="#5b8fcf"/>
<polygon points="174.35,119.26 182.40,119.26 181.67,125.46 173.62,125.46" fill="#5b8fcf"/>
<polygon points="185.92,119.26 193.97,119.26 193.23,125.46 185.18,125.46" fill="#5b8fcf"/>
<polygon points="197.48,119.26 205.53,119.26 204.80,125.46 196.75,125.46" fill="#5b8fcf"/>
<polygon points="209.05,119.26 217.10,119.26 216.36,125.46 208.31,125.46" fill="#5b8fcf"/>
<polygon points="115.35,129.18 123.45,129.18 122.71,135.38 114.61,135.38" fill="#5b8fcf"/>
<polygon points="126.97,129.18 135.07,129.18 134.33,135.38 126.23,135.38" fill="#5b8fcf"/>
<polygon points="138.59,129.18 146.69,129.18 145.95,135.38 137.85,135.38" fill="#5b8fcf"/>
<polygon points="150.21,129.18 158.31,129.18 157.57,135.38 149.47,135.38" fill="#5b8fcf"/>
<polygon points="161.83,129.18 169.93,129.18 169.19,135.38 161.09,135.38" fill="#5b8fcf"/>
<polygon points="173.45,129.18 181.55,129.18 180.81,135.38 172.71,135.38" fill="#5b8fcf"/>
<polygon points="185.07,129.18 193.17,129.18 192.43,135.38 184.33,135.38" fill="#5b8fcf"/>
<polygon points="196.69,129.18 204.79,129.18 204.05,135.38 195.95,135.38" fill="#5b8fcf"/>
<polygon points="208.31,129.18 216.41,129.18 215.67,135.38 207.57,135.38" fill="#5b8fcf"/>
<polygon points="114.17,139.10 122.32,139.10 121.58,145.30 113.43,145.30" fill="#5b8fcf"/>
<polygon points="125.84,139.10 133.99,139.10 133.26,145.30 125.11,145.30" fill="#5b8fcf"/>
<polygon points="137.52,139.10 145.67,139.10 144.93,145.30 136.78,145.30" fill="#5b8fcf"/>
<polygon points="149.19,139.10 157.34,139.10 156.61,145.30 148.46,145.30" fill="#5b8fcf"/>
<polygon points="160.87,139.10 169.02,139.10 168.28,145.30 160.13,145.30" fill="#5b8fcf"/>
<polygon points="172.54,139.10 180.69,139.10 179.96,145.30 171.81,145.30" fill="#5b8fcf"/>
<polygon points="184.22,139.10 192.37,139.10 191.63,145.30 183.48,145.30" fill="#5b8fcf"/>
<polygon points="195.89,139.10 204.04,139.10 203.31,145.30 195.16,145.30" fill="#5b8fcf"/>
<polygon points="207.57,139.10 215.72,139.10 214.98,145.30 206.83,145.30" fill="#5b8fcf"/>
<polygon points="112.99,149.02 121.19,149.02 120.45,155.22 112.25,155.22" fill="#5b8fcf"/>
<polygon points="124.72,149.02 132.92,149.02 132.18,155.22 123.98,155.22" fill="#5b8fcf"/>
<polygon points="136.45,149.02 144.65,149.02 143.91,155.22 135.71,155.22" fill="#5b8fcf"/>
<polygon points="148.18,149.02 156.38,149.02 155.64,155.22 147.44,155.22" fill="#5b8fcf"/>
<polygon points="159.91,149.02 168.11,149.02 167.37,155.22 159.17,155.22" fill="#5b8fcf"/>
<polygon points="171.64,149.02 179.84,149.02 179.10,155.22 170.90,155.22" fill="#5b8fcf"/>
<polygon points="183.37,149.02 191.57,149.02 190.83,155.22 182.63,155.22" fill="#5b8fcf"/>
<polygon points="195.10,149.02 203.30,149.02 202.56,155.22 194.36,155.22" fill="#5b8fcf"/>
<polygon points="206.83,149.02 215.03,149.02 214.29,155.22 206.09,155.22" fill="#5b8fcf"/>
</g></g>
<circle cx="350.0" cy="147.5" r="62" fill="none" stroke="#222" stroke-width="1.8"/>
<circle cx="560.0" cy="146.8" r="62" fill="#fff"/>
<g clip-path="url(#clip3)"><g transform="translate(416.4,-1.5)">
<polygon points="99.69,80 230,80 230,173.6 88.27,173.6" fill="#f2f0f1"/>
<polygon points="88.29,173.4 230,173.4 230,175.2 88.07,175.2" fill="#cfcbca"/>
<polygon points="120.07,89.50 127.97,89.50 127.23,95.70 119.33,95.70" fill="#f8d8ec"/>
<polygon points="131.47,89.50 139.37,89.50 138.63,95.70 130.73,95.70" fill="#f8f4a0"/>
<polygon points="142.87,89.50 150.77,89.50 150.03,95.70 142.13,95.70" fill="#8fc070"/>
<polygon points="154.27,89.50 162.17,89.50 161.43,95.70 153.53,95.70" fill="#b8daf4"/>
<polygon points="165.67,89.50 173.57,89.50 172.83,95.70 164.93,95.70" fill="#f0c0e4"/>
<polygon points="177.07,89.50 184.97,89.50 184.23,95.70 176.33,95.70" fill="#f8f8a0"/>
<polygon points="188.47,89.50 196.37,89.50 195.63,95.70 187.73,95.70" fill="#f8f8a0"/>
<polygon points="199.87,89.50 207.77,89.50 207.03,95.70 199.13,95.70" fill="#f8f8a0"/>
<polygon points="211.27,89.50 219.17,89.50 218.43,95.70 210.53,95.70" fill="#f8f8a0"/>
<polygon points="118.89,99.42 126.84,99.42 126.10,105.62 118.15,105.62" fill="#f0d870"/>
<polygon points="130.34,99.42 138.29,99.42 137.56,105.62 129.61,105.62" fill="#555759"/>
<polygon points="141.80,99.42 149.75,99.42 149.01,105.62 141.06,105.62" fill="#d0eea0"/>
<polygon points="153.25,99.42 161.20,99.42 160.47,105.62 152.52,105.62" fill="#f8f8a0"/>
<polygon points="164.71,99.42 172.66,99.42 171.92,105.62 163.97,105.62" fill="#f0f068"/>
<polygon points="176.16,99.42 184.11,99.42 183.38,105.62 175.43,105.62" fill="#b8e490"/>
<polygon points="187.62,99.42 195.57,99.42 194.83,105.62 186.88,105.62" fill="#f8f8a0"/>
<polygon points="199.07,99.42 207.02,99.42 206.29,105.62 198.34,105.62" fill="#f8f8a0"/>
<polygon points="210.53,99.42 218.48,99.42 217.74,105.62 209.79,105.62" fill="#f8f8a0"/>
<polygon points="117.71,109.34 125.71,109.34 124.97,115.54 116.97,115.54" fill="#a068c0"/>
<polygon points="129.22,109.34 137.22,109.34 136.48,115.54 128.48,115.54" fill="#5088cc"/>
<polygon points="140.73,109.34 148.73,109.34 147.99,115.54 139.99,115.54" fill="#c8f0f0"/>
<polygon points="152.24,109.34 160.24,109.34 159.50,115.54 151.50,115.54" fill="#98c4ec"/>
<polygon points="163.75,109.34 171.75,109.34 171.01,115.54 163.01,115.54" fill="#c8eca0"/>
<polygon points="175.26,109.34 183.26,109.34 182.52,115.54 174.52,115.54" fill="#f8a0b0"/>
<polygon points="186.77,109.34 194.77,109.34 194.03,115.54 186.03,115.54" fill="#98acd8"/>
<polygon points="198.28,109.34 206.28,109.34 205.54,115.54 197.54,115.54" fill="#f8f8a0"/>
<polygon points="209.79,109.34 217.79,109.34 217.05,115.54 209.05,115.54" fill="#f8f8a0"/>
<polygon points="116.53,119.26 124.58,119.26 123.84,125.46 115.79,125.46" fill="#a0cc88"/>
<polygon points="128.09,119.26 136.14,119.26 135.41,125.46 127.36,125.46" fill="#eca070"/>
<polygon points="139.66,119.26 147.71,119.26 146.97,125.46 138.92,125.46" fill="#e4b0e4"/>
<polygon points="151.22,119.26 159.27,119.26 158.54,125.46 150.49,125.46" fill="#f48098"/>
<polygon points="162.79,119.26 170.84,119.26 170.10,125.46 162.05,125.46" fill="#a058c0"/>
<polygon points="174.35,119.26 182.40,119.26 181.67,125.46 173.62,125.46" fill="#c8f0f0"/>
<polygon points="185.92,119.26 193.97,119.26 193.23,125.46 185.18,125.46" fill="#5088cc"/>
<polygon points="197.48,119.26 205.53,119.26 204.80,125.46 196.75,125.46" fill="#f0ec70"/>
<polygon points="209.05,119.26 217.10,119.26 216.36,125.46 208.31,125.46" fill="#f8f8a0"/>
<polygon points="115.35,129.18 123.45,129.18 122.71,135.38 114.61,135.38" fill="#90c8f0"/>
<polygon points="126.97,129.18 135.07,129.18 134.33,135.38 126.23,135.38" fill="#fcfcc8"/>
<polygon points="138.59,129.18 146.69,129.18 145.95,135.38 137.85,135.38" fill="#5c78bc"/>
<polygon points="150.21,129.18 158.31,129.18 157.57,135.38 149.47,135.38" fill="#f0ec40"/>
<polygon points="161.83,129.18 169.93,129.18 169.19,135.38 161.09,135.38" fill="#a0cc88"/>
<polygon points="173.45,129.18 181.55,129.18 180.81,135.38 172.71,135.38" fill="#f4b8e0"/>
<polygon points="185.07,129.18 193.17,129.18 192.43,135.38 184.33,135.38" fill="#f890a8"/>
<polygon points="196.69,129.18 204.79,129.18 204.05,135.38 195.95,135.38" fill="#f4f088"/>
<polygon points="208.31,129.18 216.41,129.18 215.67,135.38 207.57,135.38" fill="#f8f8a0"/>
<polygon points="114.17,139.10 122.32,139.10 121.58,145.30 113.43,145.30" fill="#f8a450"/>
<polygon points="125.84,139.10 133.99,139.10 133.26,145.30 125.11,145.30" fill="#e4b0e4"/>
<polygon points="137.52,139.10 145.67,139.10 144.93,145.30 136.78,145.30" fill="#ecc860"/>
<polygon points="149.19,139.10 157.34,139.10 156.61,145.30 148.46,145.30" fill="#88dce0"/>
<polygon points="160.87,139.10 169.02,139.10 168.28,145.30 160.13,145.30" fill="#dc80d0"/>
<polygon points="172.54,139.10 180.69,139.10 179.96,145.30 171.81,145.30" fill="#fcfcec"/>
<polygon points="184.22,139.10 192.37,139.10 191.63,145.30 183.48,145.30" fill="#f8f8a0"/>
<polygon points="195.89,139.10 204.04,139.10 203.31,145.30 195.16,145.30" fill="#fce0f0"/>
<polygon points="207.57,139.10 215.72,139.10 214.98,145.30 206.83,145.30" fill="#f8f8a0"/>
<polygon points="112.99,149.02 121.19,149.02 120.45,155.22 112.25,155.22" fill="#f8f890"/>
<polygon points="124.72,149.02 132.92,149.02 132.18,155.22 123.98,155.22" fill="#a0d878"/>
<polygon points="136.45,149.02 144.65,149.02 143.91,155.22 135.71,155.22" fill="#f48098"/>
<polygon points="148.18,149.02 156.38,149.02 155.64,155.22 147.44,155.22" fill="#f8f8a0"/>
<polygon points="159.91,149.02 168.11,149.02 167.37,155.22 159.17,155.22" fill="#f0ec28"/>
<polygon points="171.64,149.02 179.84,149.02 179.10,155.22 170.90,155.22" fill="#fcd890"/>
<polygon points="183.37,149.02 191.57,149.02 190.83,155.22 182.63,155.22" fill="#d8f4f4"/>
<polygon points="195.10,149.02 203.30,149.02 202.56,155.22 194.36,155.22" fill="#f4f490"/>
<polygon points="206.83,149.02 215.03,149.02 214.29,155.22 206.09,155.22" fill="#f8f8a0"/>
</g></g>
<circle cx="560.0" cy="146.8" r="62" fill="none" stroke="#222" stroke-width="1.8"/>
<path d="M222,145.6H272.6" stroke="#1a1a1a" stroke-width="1.05" fill="none"/><polygon points="280.6,145.6 272.1,141.15 272.1,150.04999999999998" fill="#111"/>
<path d="M424,145.6H474.6" stroke="#1a1a1a" stroke-width="1.05" fill="none"/><polygon points="482.6,145.6 474.1,141.15 474.1,150.04999999999998" fill="#111"/>
<path d="M123.9,163.8L127.6,226.6 M175.7,151.3L152.3,226.6 M322.5,161.4L328.4,231.4 M382.1,151.9L351.6,231.8 M544.8,151.9L516.4,253.9 M570.4,121.2L536.7,232.7" stroke="#222" stroke-width="0.9" fill="none"/>
<rect x="126.40" y="226.50" width="2.10" height="32.40" fill="url(#barg)" stroke="#222" stroke-width="0.6"/>
<rect x="151.20" y="226.50" width="2.40" height="32.40" fill="url(#barg)" stroke="#222" stroke-width="0.6"/>
<rect x="327.70" y="231.50" width="1.80" height="33.10" fill="url(#barg)" stroke="#222" stroke-width="0.6"/>
<rect x="350.80" y="231.50" width="2.10" height="33.10" fill="url(#barg)" stroke="#222" stroke-width="0.6"/>
<rect x="535.90" y="232.60" width="1.60" height="17.80" fill="url(#barg)" stroke="#222" stroke-width="0.6"/>
<rect x="515.50" y="253.80" width="1.80" height="17.20" fill="url(#barg)" stroke="#222" stroke-width="0.6"/>
<path d="M45.00,205.40L49.30,213.00M49.30,213.00L58.20,213.00M58.20,213.00L62.50,220.60M62.50,220.60L71.40,220.60M71.40,220.60L75.70,228.20M75.70,228.20L84.60,228.20M84.60,228.20L88.90,235.80M88.90,235.80L97.40,235.80M45.00,205.40L41.67,199.47M45.00,205.40L48.33,199.47M45.00,205.40L38.30,205.40M49.30,213.00L43.55,216.30M49.30,213.00L49.30,218.40M62.50,220.60L56.75,223.90M62.50,220.60L62.50,226.00M75.70,228.20L69.95,231.50M75.70,228.20L75.70,233.60M88.90,235.80L83.15,239.10M88.90,235.80L88.90,241.20M58.20,213.00L58.20,207.40M58.20,213.00L63.76,209.72M71.40,220.60L71.40,215.00M71.40,220.60L76.96,217.32M84.60,228.20L84.60,222.60M84.60,228.20L90.16,224.92M45.00,235.80L49.30,243.40M49.30,243.40L58.20,243.40M58.20,243.40L62.50,251.00M62.50,251.00L71.40,251.00M71.40,251.00L75.70,258.60M75.70,258.60L84.60,258.60M84.60,258.60L88.90,266.20M88.90,266.20L97.40,266.20M45.00,235.80L41.67,229.87M45.00,235.80L48.33,229.87M45.00,235.80L38.30,235.80M49.30,243.40L43.55,246.70M49.30,243.40L49.30,248.80M62.50,251.00L56.75,254.30M62.50,251.00L62.50,256.40M75.70,258.60L69.95,261.90M75.70,258.60L75.70,264.00M88.90,266.20L83.15,269.50M88.90,266.20L88.90,271.60M58.20,243.40L58.20,237.80M58.20,243.40L63.76,240.12M71.40,251.00L71.40,245.40M71.40,251.00L76.96,247.72M84.60,258.60L84.60,253.00M84.60,258.60L90.16,255.32M97.40,235.80L101.80,243.40M101.80,243.40L107.80,243.53M97.40,266.20L101.80,259.00M101.80,259.00L107.80,259.07M114.04,244.59L119.00,246.20M119.00,246.20L126.20,242.20M119.00,246.20L119.00,257.60M119.00,257.60L114.15,258.51M246.20,210.40L250.50,218.00M250.50,218.00L259.40,218.00M259.40,218.00L263.70,225.60M263.70,225.60L272.60,225.60M272.60,225.60L276.90,233.20M276.90,233.20L285.80,233.20M285.80,233.20L290.10,240.80M290.10,240.80L298.60,240.80M246.20,210.40L242.87,204.47M246.20,210.40L249.53,204.47M246.20,210.40L239.50,210.40M250.50,218.00L244.75,221.30M250.50,218.00L250.50,223.40M263.70,225.60L257.95,228.90M263.70,225.60L263.70,231.00M276.90,233.20L271.15,236.50M276.90,233.20L276.90,238.60M290.10,240.80L284.35,244.10M290.10,240.80L290.10,246.20M259.40,218.00L259.40,212.40M259.40,218.00L264.96,214.72M272.60,225.60L272.60,220.00M272.60,225.60L278.16,222.32M285.80,233.20L285.80,227.60M285.80,233.20L291.36,229.92M246.20,240.80L250.50,248.40M250.50,248.40L259.40,248.40M259.40,248.40L263.70,256.00M263.70,256.00L272.60,256.00M272.60,256.00L276.90,263.60M276.90,263.60L285.80,263.60M285.80,263.60L290.10,271.20M290.10,271.20L298.60,271.20M246.20,240.80L242.87,234.87M246.20,240.80L249.53,234.87M246.20,240.80L239.50,240.80M250.50,248.40L244.75,251.70M250.50,248.40L250.50,253.80M263.70,256.00L257.95,259.30M263.70,256.00L263.70,261.40M276.90,263.60L271.15,266.90M276.90,263.60L276.90,269.00M290.10,271.20L284.35,274.50M290.10,271.20L290.10,276.60M259.40,248.40L259.40,242.80M259.40,248.40L264.96,245.12M272.60,256.00L272.60,250.40M272.60,256.00L278.16,252.72M285.80,263.60L285.80,258.00M285.80,263.60L291.36,260.32M298.60,240.80L303.00,248.40M303.00,248.40L309.00,248.53M298.60,271.20L303.00,264.00M303.00,264.00L309.00,264.07M315.24,249.59L320.20,251.20M320.20,251.20L327.40,247.20M320.20,251.20L320.20,262.60M320.20,262.60L315.35,263.51M153.90,235.20L161.60,239.00M161.60,239.00L165.57,237.66M171.90,236.60L177.80,236.60M177.80,236.60L182.50,228.50M182.50,228.50L187.70,228.50M161.60,239.00L161.60,250.40M161.60,250.40L165.45,251.11M171.90,251.70L177.80,251.70M177.80,251.70L182.50,258.90M182.50,258.90L187.70,258.90M353.20,240.10L360.20,244.40M360.20,244.40L364.85,242.97M360.20,244.40L360.20,255.20M360.20,255.20L364.85,256.63M371.20,242.00L375.40,242.00M375.40,242.00L380.60,234.80M380.60,234.80L389.20,234.80M395.77,231.75L397.50,226.30M397.50,226.30L395.30,220.34M396.28,226.75L394.08,220.79M397.50,226.30L405.00,228.10M405.00,228.10L412.00,220.60M412.00,220.60L420.50,222.70M420.50,222.70L424.44,218.29M429.08,216.54L435.30,217.30M435.30,217.30L440.10,211.20M440.10,211.20L449.50,212.50M449.50,212.50L451.50,220.60M451.50,220.60L446.10,227.10M446.10,227.10L437.40,225.40M437.40,225.40L435.30,217.30M441.30,212.99L447.64,213.87M449.38,220.64L445.81,224.94M438.58,223.51L437.19,218.16M437.40,225.40L434.57,229.99M449.50,212.50L452.64,208.82M451.50,220.60L461.00,222.70M461.00,222.70L465.70,215.90M461.00,222.70L464.27,228.19M371.20,257.60L375.40,257.60M375.40,257.60L380.60,265.60M380.60,265.60L389.20,265.60M395.63,268.69L397.14,274.28M397.14,274.28L394.69,280.14M395.94,273.78L393.49,279.64M397.14,274.28L404.71,272.80M404.71,272.80L411.39,280.58M411.39,280.58L419.97,278.84M419.97,278.84L423.72,283.41M428.28,285.36L434.53,284.86M434.53,284.86L439.07,291.15M439.07,291.15L448.52,290.25M448.52,290.25L450.85,282.24M450.85,282.24L445.73,275.52M445.73,275.52L436.97,276.85M436.97,276.85L434.53,284.86M440.35,289.42L446.72,288.80M448.74,282.11L445.35,277.67M438.06,278.79L436.45,284.07M436.97,276.85L434.33,272.15M448.52,290.25L451.50,294.05M450.85,282.24L460.43,280.54M460.43,280.54L464.84,287.53M460.43,280.54L463.93,275.18M537.80,244.20L545.60,243.40M545.60,243.40L551.20,235.30M551.20,235.30L558.20,235.24M564.77,232.15L566.50,226.70M566.50,226.70L564.30,220.74M565.28,227.15L563.08,221.19M566.50,226.70L574.00,228.50M574.00,228.50L581.00,221.00M581.00,221.00L589.50,223.10M589.50,223.10L593.44,218.69M598.08,216.94L604.30,217.70M604.30,217.70L609.10,211.60M609.10,211.60L618.50,212.90M618.50,212.90L620.50,221.00M620.50,221.00L615.10,227.50M615.10,227.50L606.40,225.80M606.40,225.80L604.30,217.70M610.30,213.39L616.64,214.27M618.38,221.04L614.81,225.34M607.58,223.91L606.19,218.56M606.40,225.80L603.57,230.39M618.50,212.90L621.64,209.22M620.50,221.00L630.00,223.10M630.00,223.10L634.70,216.30M630.00,223.10L633.27,228.59M517.60,260.20L525.50,260.20M525.50,260.20L531.40,267.20M531.40,267.20L538.20,267.33M544.63,270.49L546.14,276.08M546.14,276.08L543.69,281.94M544.94,275.58L542.49,281.44M546.14,276.08L553.71,274.60M553.71,274.60L560.39,282.38M560.39,282.38L568.97,280.64M568.97,280.64L572.72,285.21M577.28,287.16L583.53,286.66M583.53,286.66L588.07,292.95M588.07,292.95L597.52,292.05M597.52,292.05L599.85,284.04M599.85,284.04L594.73,277.32M594.73,277.32L585.97,278.65M585.97,278.65L583.53,286.66M589.35,291.22L595.72,290.60M597.74,283.91L594.35,279.47M587.06,280.59L585.45,285.87M585.97,278.65L583.33,273.95M597.52,292.05L600.50,295.85M599.85,284.04L609.43,282.34M609.43,282.34L613.84,289.33M609.43,282.34L612.93,276.98M636.76,232.58L639.40,234.60M617.00,274.07L620.40,273.30" stroke="#3c3c3c" stroke-width="0.6" fill="none" stroke-linecap="round"/><g font-family='"Liberation Sans", sans-serif' fill="#2c2c2c" stroke="#2c2c2c" stroke-width="0.18"><text x="40.40" y="199.43" font-size="6.2" text-anchor="middle">F</text><text x="49.60" y="199.43" font-size="6.2" text-anchor="middle">F</text><text x="35.70" y="207.63" font-size="6.2" text-anchor="middle">F</text><text x="41.30" y="219.83" font-size="6.2" text-anchor="middle">F</text><text x="49.30" y="223.23" font-size="6.2" text-anchor="middle">F</text><text x="54.50" y="227.43" font-size="6.2" text-anchor="middle">F</text><text x="62.50" y="230.83" font-size="6.2" text-anchor="middle">F</text><text x="67.70" y="235.03" font-size="6.2" text-anchor="middle">F</text><text x="75.70" y="238.43" font-size="6.2" text-anchor="middle">F</text><text x="80.90" y="242.63" font-size="6.2" text-anchor="middle">F</text><text x="88.90" y="246.03" font-size="6.2" text-anchor="middle">F</text><text x="58.20" y="207.03" font-size="6.2" text-anchor="middle">F</text><text x="66.00" y="210.63" font-size="6.2" text-anchor="middle">F</text><text x="71.40" y="214.63" font-size="6.2" text-anchor="middle">F</text><text x="79.20" y="218.23" font-size="6.2" text-anchor="middle">F</text><text x="84.60" y="222.23" font-size="6.2" text-anchor="middle">F</text><text x="92.40" y="225.83" font-size="6.2" text-anchor="middle">F</text><text x="40.40" y="229.83" font-size="6.2" text-anchor="middle">F</text><text x="49.60" y="229.83" font-size="6.2" text-anchor="middle">F</text><text x="35.70" y="238.03" font-size="6.2" text-anchor="middle">F</text><text x="41.30" y="250.23" font-size="6.2" text-anchor="middle">F</text><text x="49.30" y="253.63" font-size="6.2" text-anchor="middle">F</text><text x="54.50" y="257.83" font-size="6.2" text-anchor="middle">F</text><text x="62.50" y="261.23" font-size="6.2" text-anchor="middle">F</text><text x="67.70" y="265.43" font-size="6.2" text-anchor="middle">F</text><text x="75.70" y="268.83" font-size="6.2" text-anchor="middle">F</text><text x="80.90" y="273.03" font-size="6.2" text-anchor="middle">F</text><text x="88.90" y="276.43" font-size="6.2" text-anchor="middle">F</text><text x="58.20" y="237.43" font-size="6.2" text-anchor="middle">F</text><text x="66.00" y="241.03" font-size="6.2" text-anchor="middle">F</text><text x="71.40" y="245.03" font-size="6.2" text-anchor="middle">F</text><text x="79.20" y="248.63" font-size="6.2" text-anchor="middle">F</text><text x="84.60" y="252.63" font-size="6.2" text-anchor="middle">F</text><text x="92.40" y="256.23" font-size="6.2" text-anchor="middle">F</text><text x="111.00" y="245.83" font-size="6.2" text-anchor="middle">S</text><text x="111.00" y="261.33" font-size="6.2" text-anchor="middle">S</text><text x="241.60" y="204.43" font-size="6.2" text-anchor="middle">F</text><text x="250.80" y="204.43" font-size="6.2" text-anchor="middle">F</text><text x="236.90" y="212.63" font-size="6.2" text-anchor="middle">F</text><text x="242.50" y="224.83" font-size="6.2" text-anchor="middle">F</text><text x="250.50" y="228.23" font-size="6.2" text-anchor="middle">F</text><text x="255.70" y="232.43" font-size="6.2" text-anchor="middle">F</text><text x="263.70" y="235.83" font-size="6.2" text-anchor="middle">F</text><text x="268.90" y="240.03" font-size="6.2" text-anchor="middle">F</text><text x="276.90" y="243.43" font-size="6.2" text-anchor="middle">F</text><text x="282.10" y="247.63" font-size="6.2" text-anchor="middle">F</text><text x="290.10" y="251.03" font-size="6.2" text-anchor="middle">F</text><text x="259.40" y="212.03" font-size="6.2" text-anchor="middle">F</text><text x="267.20" y="215.63" font-size="6.2" text-anchor="middle">F</text><text x="272.60" y="219.63" font-size="6.2" text-anchor="middle">F</text><text x="280.40" y="223.23" font-size="6.2" text-anchor="middle">F</text><text x="285.80" y="227.23" font-size="6.2" text-anchor="middle">F</text><text x="293.60" y="230.83" font-size="6.2" text-anchor="middle">F</text><text x="241.60" y="234.83" font-size="6.2" text-anchor="middle">F</text><text x="250.80" y="234.83" font-size="6.2" text-anchor="middle">F</text><text x="236.90" y="243.03" font-size="6.2" text-anchor="middle">F</text><text x="242.50" y="255.23" font-size="6.2" text-anchor="middle">F</text><text x="250.50" y="258.63" font-size="6.2" text-anchor="middle">F</text><text x="255.70" y="262.83" font-size="6.2" text-anchor="middle">F</text><text x="263.70" y="266.23" font-size="6.2" text-anchor="middle">F</text><text x="268.90" y="270.43" font-size="6.2" text-anchor="middle">F</text><text x="276.90" y="273.83" font-size="6.2" text-anchor="middle">F</text><text x="282.10" y="278.03" font-size="6.2" text-anchor="middle">F</text><text x="290.10" y="281.43" font-size="6.2" text-anchor="middle">F</text><text x="259.40" y="242.43" font-size="6.2" text-anchor="middle">F</text><text x="267.20" y="246.03" font-size="6.2" text-anchor="middle">F</text><text x="272.60" y="250.03" font-size="6.2" text-anchor="middle">F</text><text x="280.40" y="253.63" font-size="6.2" text-anchor="middle">F</text><text x="285.80" y="257.63" font-size="6.2" text-anchor="middle">F</text><text x="293.60" y="261.23" font-size="6.2" text-anchor="middle">F</text><text x="312.20" y="250.83" font-size="6.2" text-anchor="middle">S</text><text x="312.20" y="266.33" font-size="6.2" text-anchor="middle">S</text><text x="168.70" y="238.83" font-size="6.2" text-anchor="middle">S</text><text x="188.20" y="230.83" font-size="6.2" text-anchor="start">NH<tspan font-size="4.46" dy="1.2">2</tspan></text><text x="168.70" y="253.93" font-size="6.2" text-anchor="middle">S</text><text x="188.20" y="261.23" font-size="6.2" text-anchor="start">NH<tspan font-size="4.46" dy="1.2">2</tspan></text><text x="368.00" y="244.23" font-size="6.2" text-anchor="middle">S</text><text x="368.00" y="259.83" font-size="6.2" text-anchor="middle">S</text><text x="393.00" y="237.03" font-size="6.2" text-anchor="middle">NH</text><text x="394.40" y="220.13" font-size="6.2" text-anchor="middle">O</text><text x="426.30" y="218.43" font-size="6.2" text-anchor="middle">O</text><text x="435.20" y="235.03" font-size="6.2" text-anchor="end">MeO</text><text x="452.40" y="208.73" font-size="6.2" text-anchor="start">NO<tspan font-size="4.46" dy="1.2">2</tspan></text><text x="463.70" y="233.23" font-size="6.2" text-anchor="start">OH</text><text x="393.00" y="267.83" font-size="6.2" text-anchor="middle">NH</text><text x="393.69" y="284.78" font-size="6.2" text-anchor="middle">O</text><text x="425.49" y="287.81" font-size="6.2" text-anchor="middle">O</text><text x="435.06" y="271.51" font-size="6.2" text-anchor="end">MeO</text><text x="451.18" y="298.67" font-size="6.2" text-anchor="start">NO<tspan font-size="4.46" dy="1.2">2</tspan></text><text x="463.46" y="274.67" font-size="6.2" text-anchor="start">OH</text><text x="562.00" y="237.43" font-size="6.2" text-anchor="middle">NH</text><text x="563.40" y="220.53" font-size="6.2" text-anchor="middle">O</text><text x="595.30" y="218.83" font-size="6.2" text-anchor="middle">O</text><text x="604.20" y="235.43" font-size="6.2" text-anchor="end">MeO</text><text x="621.40" y="209.13" font-size="6.2" text-anchor="start">NO<tspan font-size="4.46" dy="1.2">2</tspan></text><text x="634.70" y="233.63" font-size="6.2" text-anchor="middle">O</text><text x="542.00" y="269.63" font-size="6.2" text-anchor="middle">NH</text><text x="542.69" y="286.58" font-size="6.2" text-anchor="middle">O</text><text x="574.49" y="289.61" font-size="6.2" text-anchor="middle">O</text><text x="584.06" y="273.31" font-size="6.2" text-anchor="end">MeO</text><text x="600.18" y="300.47" font-size="6.2" text-anchor="start">NO<tspan font-size="4.46" dy="1.2">2</tspan></text><text x="614.46" y="276.47" font-size="6.2" text-anchor="middle">O</text></g>
<rect x="639.2" y="229.2" width="24" height="10.8" rx="1.6" fill="#cb5323"/>
<rect x="620.2" y="267.9" width="23.6" height="10.9" rx="1.6" fill="#4a8a35"/>
<g font-family='"Liberation Sans", sans-serif' fill="#fff" font-size="9.6" text-anchor="middle"><text transform="translate(651.3,237.9) scale(0.82,1)">X</text><text transform="translate(631.8,276.8) scale(0.82,1)">Y</text></g>
<text x="32.9" y="101.9" font-family='"Liberation Sans", sans-serif' font-size="19.6" fill="#111">A</text>
<text x="32.6" y="339.7" font-family='"Liberation Sans", sans-serif' font-size="19.2" fill="#111">B</text>
<rect x="33.0" y="372.75" width="127.5" height="21.9" fill="#e9e7e5"/><rect x="33.0" y="394.65" width="127.5" height="10.3" fill="#a3c5ea"/><rect x="50.60" y="372.75" width="20.9" height="21.9" fill="#c8501f"/><text x="61.05" y="389.15" font-family='"Liberation Sans", sans-serif' font-size="14" fill="#fff" text-anchor="middle" transform="translate(61.05,0) scale(0.8,1) translate(-61.05,0)">X</text><rect x="87.30" y="372.75" width="20.9" height="21.9" fill="#4a8230"/><text x="97.75" y="389.15" font-family='"Liberation Sans", sans-serif' font-size="14" fill="#fff" text-anchor="middle" transform="translate(97.75,0) scale(0.8,1) translate(-97.75,0)">Y</text><rect x="124.00" y="372.75" width="20.9" height="21.9" fill="#b98a1c"/><text x="134.45" y="389.15" font-family='"Liberation Sans", sans-serif' font-size="14" fill="#fff" text-anchor="middle" transform="translate(134.45,0) scale(0.8,1) translate(-134.45,0)">Z</text>
<rect x="217.1" y="372.75" width="127.5" height="21.9" fill="#e9e7e5"/><rect x="217.1" y="394.65" width="127.5" height="10.3" fill="#a3c5ea"/><circle cx="245.15" cy="368.65" r="11.05" fill="#93a7de" clip-path="url(#dc217_372_0)"/><rect x="234.70" y="372.75" width="20.9" height="21.9" fill="#c8501f"/><ellipse cx="239.75" cy="371.75" rx="1.6" ry="1.05" fill="#f2a040" stroke="#fdeeda" stroke-width="0.65"/><ellipse cx="242.35" cy="371.15" rx="1.6" ry="1.05" fill="#f2a040" stroke="#fdeeda" stroke-width="0.65"/><ellipse cx="246.05" cy="369.75" rx="1.6" ry="1.05" fill="#f2a040" stroke="#fdeeda" stroke-width="0.65"/><ellipse cx="248.25" cy="370.35" rx="1.6" ry="1.05" fill="#f2a040" stroke="#fdeeda" stroke-width="0.65"/><ellipse cx="250.85" cy="371.75" rx="1.6" ry="1.05" fill="#f2a040" stroke="#fdeeda" stroke-width="0.65"/><ellipse cx="252.45" cy="371.95" rx="1.6" ry="1.05" fill="#f2a040" stroke="#fdeeda" stroke-width="0.65"/><ellipse cx="244.55" cy="371.55" rx="1.6" ry="1.05" fill="#f2a040" stroke="#fdeeda" stroke-width="0.65"/><ellipse cx="247.35" cy="371.85" rx="1.6" ry="1.05" fill="#f2a040" stroke="#fdeeda" stroke-width="0.65"/><circle cx="281.85" cy="368.65" r="11.05" fill="#93a7de" clip-path="url(#dc217_372_1)"/><rect x="271.40" y="372.75" width="20.9" height="21.9" fill="#4a8230"/><ellipse cx="276.45" cy="371.75" rx="1.6" ry="1.05" fill="#f2a040" stroke="#fdeeda" stroke-width="0.65"/><ellipse cx="279.05" cy="371.15" rx="1.6" ry="1.05" fill="#f2a040" stroke="#fdeeda" stroke-width="0.65"/><ellipse cx="282.75" cy="369.75" rx="1.6" ry="1.05" fill="#f2a040" stroke="#fdeeda" stroke-width="0.65"/><ellipse cx="284.95" cy="370.35" rx="1.6" ry="1.05" fill="#f2a040" stroke="#fdeeda" stroke-width="0.65"/><ellipse cx="287.55" cy="371.75" rx="1.6" ry="1.05" fill="#f2a040" stroke="#fdeeda" stroke-width="0.65"/><ellipse cx="289.15" cy="371.95" rx="1.6" ry="1.05" fill="#f2a040" stroke="#fdeeda" stroke-width="0.65"/><ellipse cx="281.25" cy="371.55" rx="1.6" ry="1.05" fill="#f2a040" stroke="#fdeeda" stroke-width="0.65"/><ellipse cx="284.05" cy="371.85" rx="1.6" ry="1.05" fill="#f2a040" stroke="#fdeeda" stroke-width="0.65"/><circle cx="318.55" cy="368.65" r="11.05" fill="#93a7de" clip-path="url(#dc217_372_2)"/><rect x="308.10" y="372.75" width="20.9" height="21.9" fill="#b98a1c"/><ellipse cx="313.15" cy="371.75" rx="1.6" ry="1.05" fill="#f2a040" stroke="#fdeeda" stroke-width="0.65"/><ellipse cx="315.75" cy="371.15" rx="1.6" ry="1.05" fill="#f2a040" stroke="#fdeeda" stroke-width="0.65"/><ellipse cx="319.45" cy="369.75" rx="1.6" ry="1.05" fill="#f2a040" stroke="#fdeeda" stroke-width="0.65"/><ellipse cx="321.65" cy="370.35" rx="1.6" ry="1.05" fill="#f2a040" stroke="#fdeeda" stroke-width="0.65"/><ellipse cx="324.25" cy="371.75" rx="1.6" ry="1.05" fill="#f2a040" stroke="#fdeeda" stroke-width="0.65"/><ellipse cx="325.85" cy="371.95" rx="1.6" ry="1.05" fill="#f2a040" stroke="#fdeeda" stroke-width="0.65"/><ellipse cx="317.95" cy="371.55" rx="1.6" ry="1.05" fill="#f2a040" stroke="#fdeeda" stroke-width="0.65"/><ellipse cx="320.75" cy="371.85" rx="1.6" ry="1.05" fill="#f2a040" stroke="#fdeeda" stroke-width="0.65"/>
<rect x="404.6" y="371.9" width="127.5" height="21.9" fill="#e9e7e5"/><rect x="404.6" y="393.79999999999995" width="127.5" height="10.3" fill="#a3c5ea"/><circle cx="432.65" cy="367.80" r="11.05" fill="#e3a57d" clip-path="url(#dc404_371_0)"/><rect x="422.20" y="371.9" width="20.9" height="21.9" fill="#c8501f"/><ellipse cx="427.25" cy="370.90" rx="1.6" ry="1.05" fill="#f2a040" stroke="#fdeeda" stroke-width="0.65"/><ellipse cx="429.85" cy="370.30" rx="1.6" ry="1.05" fill="#f2a040" stroke="#fdeeda" stroke-width="0.65"/><ellipse cx="433.55" cy="368.90" rx="1.6" ry="1.05" fill="#f2a040" stroke="#fdeeda" stroke-width="0.65"/><ellipse cx="435.75" cy="369.50" rx="1.6" ry="1.05" fill="#f2a040" stroke="#fdeeda" stroke-width="0.65"/><ellipse cx="438.35" cy="370.90" rx="1.6" ry="1.05" fill="#f2a040" stroke="#fdeeda" stroke-width="0.65"/><ellipse cx="439.95" cy="371.10" rx="1.6" ry="1.05" fill="#f2a040" stroke="#fdeeda" stroke-width="0.65"/><ellipse cx="432.05" cy="370.70" rx="1.6" ry="1.05" fill="#f2a040" stroke="#fdeeda" stroke-width="0.65"/><ellipse cx="434.85" cy="371.00" rx="1.6" ry="1.05" fill="#f2a040" stroke="#fdeeda" stroke-width="0.65"/><circle cx="469.35" cy="367.80" r="11.05" fill="#a3c78f" clip-path="url(#dc404_371_1)"/><rect x="458.90" y="371.9" width="20.9" height="21.9" fill="#4a8230"/><ellipse cx="463.95" cy="370.90" rx="1.6" ry="1.05" fill="#f2a040" stroke="#fdeeda" stroke-width="0.65"/><ellipse cx="466.55" cy="370.30" rx="1.6" ry="1.05" fill="#f2a040" stroke="#fdeeda" stroke-width="0.65"/><ellipse cx="470.25" cy="368.90" rx="1.6" ry="1.05" fill="#f2a040" stroke="#fdeeda" stroke-width="0.65"/><ellipse cx="472.45" cy="369.50" rx="1.6" ry="1.05" fill="#f2a040" stroke="#fdeeda" stroke-width="0.65"/><ellipse cx="475.05" cy="370.90" rx="1.6" ry="1.05" fill="#f2a040" stroke="#fdeeda" stroke-width="0.65"/><ellipse cx="476.65" cy="371.10" rx="1.6" ry="1.05" fill="#f2a040" stroke="#fdeeda" stroke-width="0.65"/><ellipse cx="468.75" cy="370.70" rx="1.6" ry="1.05" fill="#f2a040" stroke="#fdeeda" stroke-width="0.65"/><ellipse cx="471.55" cy="371.00" rx="1.6" ry="1.05" fill="#f2a040" stroke="#fdeeda" stroke-width="0.65"/><circle cx="506.05" cy="367.80" r="11.05" fill="#dcc66a" clip-path="url(#dc404_371_2)"/><rect x="495.60" y="371.9" width="20.9" height="21.9" fill="#b98a1c"/><ellipse cx="500.65" cy="370.90" rx="1.6" ry="1.05" fill="#f2a040" stroke="#fdeeda" stroke-width="0.65"/><ellipse cx="503.25" cy="370.30" rx="1.6" ry="1.05" fill="#f2a040" stroke="#fdeeda" stroke-width="0.65"/><ellipse cx="506.95" cy="368.90" rx="1.6" ry="1.05" fill="#f2a040" stroke="#fdeeda" stroke-width="0.65"/><ellipse cx="509.15" cy="369.50" rx="1.6" ry="1.05" fill="#f2a040" stroke="#fdeeda" stroke-width="0.65"/><ellipse cx="511.75" cy="370.90" rx="1.6" ry="1.05" fill="#f2a040" stroke="#fdeeda" stroke-width="0.65"/><ellipse cx="513.35" cy="371.10" rx="1.6" ry="1.05" fill="#f2a040" stroke="#fdeeda" stroke-width="0.65"/><ellipse cx="505.45" cy="370.70" rx="1.6" ry="1.05" fill="#f2a040" stroke="#fdeeda" stroke-width="0.65"/><ellipse cx="508.25" cy="371.00" rx="1.6" ry="1.05" fill="#f2a040" stroke="#fdeeda" stroke-width="0.65"/>
<rect x="32.8" y="468.0" width="127.5" height="21.9" fill="#e9e7e5"/><rect x="32.8" y="489.9" width="127.5" height="10.3" fill="#a3c5ea"/><circle cx="60.85" cy="463.90" r="11.05" fill="#93a7de" clip-path="url(#dc32_468_0)"/><rect x="50.40" y="468.0" width="20.9" height="21.9" fill="#c8501f"/><circle cx="97.55" cy="463.90" r="11.05" fill="#93a7de" clip-path="url(#dc32_468_1)"/><rect x="87.10" y="468.0" width="20.9" height="21.9" fill="#4a8230"/><circle cx="134.25" cy="463.90" r="11.05" fill="#93a7de" clip-path="url(#dc32_468_2)"/><rect x="123.80" y="468.0" width="20.9" height="21.9" fill="#b98a1c"/>
<rect x="217.1" y="468.0" width="127.5" height="21.9" fill="#e9e7e5"/><rect x="217.1" y="489.9" width="127.5" height="10.3" fill="#a3c5ea"/><circle cx="245.15" cy="463.90" r="11.05" fill="#e3a57d" clip-path="url(#dc217_468_0)"/><rect x="234.70" y="468.0" width="20.9" height="21.9" fill="#c8501f"/><circle cx="281.85" cy="463.90" r="11.05" fill="#a3c78f" clip-path="url(#dc217_468_1)"/><rect x="271.40" y="468.0" width="20.9" height="21.9" fill="#4a8230"/><circle cx="318.55" cy="463.90" r="11.05" fill="#dcc66a" clip-path="url(#dc217_468_2)"/><rect x="308.10" y="468.0" width="20.9" height="21.9" fill="#b98a1c"/>
<rect x="404.8" y="445.4" width="127.4" height="9.9" fill="#a3c5ea"/><rect x="404.8" y="455.29999999999995" width="127.4" height="21.4" fill="#e9e7e5"/><circle cx="431.25" cy="480.80" r="11.05" fill="#dcc66a" clip-path="url(#sw0)"/><rect x="420.80" y="455.29999999999995" width="20.9" height="21.4" fill="#b98a1c"/><circle cx="467.95" cy="480.80" r="11.05" fill="#a3c78f" clip-path="url(#sw1)"/><rect x="457.50" y="455.29999999999995" width="20.9" height="21.4" fill="#4a8230"/><circle cx="504.65" cy="480.80" r="11.05" fill="#e3a57d" clip-path="url(#sw2)"/><rect x="494.20" y="455.29999999999995" width="20.9" height="21.4" fill="#c8501f"/><rect x="405.0" y="489.4" width="129.2" height="10.9" fill="#77787a"/>
<ellipse cx="611.5" cy="489.8" rx="10.7" ry="4.5" fill="#dbbd48"/>
<ellipse cx="648.3" cy="489.8" rx="10.7" ry="4.5" fill="#8fc474"/>
<ellipse cx="685.0" cy="489.8" rx="10.9" ry="4.5" fill="#e8955e"/>
<path d="M634.4,452.2L614.4,487.2" stroke="#f6b0b4" stroke-width="2.0" fill="none"/>
<path d="M635.0,452.6L615.0,487.4" stroke="#e01822" stroke-width="0.9" fill="none"/>
<path d="M633.5,451.8L613.8,486.8" stroke="#e8404a" stroke-width="0.4" fill="none"/>
<rect x="583.7" y="489.4" width="129" height="10.9" fill="#77787a"/>
<g transform="translate(657.8,409.8) rotate(-60.2)"><rect x="-48.3" y="-11.8" width="96.3" height="23.6" fill="#6b6b6d"/><text x="-0.4" y="4.6" font-family='"Liberation Sans", sans-serif' font-size="12.8" fill="#fff" stroke="#fff" stroke-width="0.2" text-anchor="middle">MALDI-TOF</text></g>
<path d="M168.4,393.1H202.8" stroke="#1a1a1a" stroke-width="1.05" fill="none"/><polygon points="210.8,393.1 202.3,388.65000000000003 202.3,397.55" fill="#111"/>
<path d="M352.7,393.2H387.0" stroke="#1a1a1a" stroke-width="1.05" fill="none"/><polygon points="395.0,393.2 386.5,388.75 386.5,397.65" fill="#111"/>
<path d="M537.2,393.3H571.5" stroke="#1a1a1a" stroke-width="1.05" fill="none"/><polygon points="579.5,393.3 571.0,388.85 571.0,397.75" fill="#111"/>
<path d="M96.7,410.0V434.0" stroke="#1a1a1a" stroke-width="1.05" fill="none"/><polygon points="96.7,442.0 92.4,433.5 101.0,433.5" fill="#111"/>
<path d="M167.9,489.5H202.3" stroke="#1a1a1a" stroke-width="1.05" fill="none"/><polygon points="210.3,489.5 201.8,485.05 201.8,493.95" fill="#111"/>
<path d="M352.6,489.4H387.3" stroke="#1a1a1a" stroke-width="1.05" fill="none"/><polygon points="395.3,489.4 386.8,484.95 386.8,493.84999999999997" fill="#111"/>
<path d="M537.5,489.2H571.3" stroke="#1a1a1a" stroke-width="1.05" fill="none"/><polygon points="579.3,489.2 570.8,484.75 570.8,493.65" fill="#111"/>
<g font-family='"Liberation Sans", sans-serif' font-size="15" fill="#1a1a1a" stroke="#1a1a1a" stroke-width="0.25"><text x="174.3" y="387.0">i)</text><text x="369.9" y="387.1">ii)</text><text x="182.6" y="482.3">ii)</text><text x="366.4" y="482.4">iii)</text><text x="547.4" y="482.6">iv)</text></g>
<polygon points="348.20,375.00 356.30,371.30 360.80,377.90 358.70,378.70 363.70,382.40 361.70,383.50 369.10,392.50 358.60,386.20 360.80,385.10 354.00,381.30 356.60,380.00" fill="#f3b40f" stroke="#cf9a1c" stroke-width="0.7" stroke-linejoin="round"/>
<polygon points="162.40,471.90 170.50,468.20 175.00,474.80 172.90,475.60 177.90,479.30 175.90,480.40 183.30,489.40 172.80,483.10 175.00,482.00 168.20,478.20 170.80,476.90" fill="#f3b40f" stroke="#cf9a1c" stroke-width="0.7" stroke-linejoin="round"/>
<g transform="translate(580,310) scale(0.17045)">
<path d="M205,183 C262,200 297,262 291,342 C288,392 276,422 262,445 L222,425 C240,392 249,352 246,312 C244,266 226,236 193,224 Z" fill="url(#marm)" stroke="#3a3a3a" stroke-width="2"/>
<path d="M44,506 C44,490 60,487 92,487 L150,487 C190,485 202,450 214,416 C224,394 251,398 263,425 C286,470 298,510 298,528 C298,541 286,544 270,544 L76,536 C50,533 44,521 44,506 Z" fill="url(#mbase)" stroke="#3a3a3a" stroke-width="2"/>
<path d="M58,500 C90,492 150,497 185,486 C200,480 210,455 220,425" fill="none" stroke="#fff" stroke-width="6" opacity="0.8" stroke-linecap="round"/>
<path d="M70,530 L280,538" fill="none" stroke="#222" stroke-width="7" opacity="0.55" stroke-linecap="round"/>
<path d="M214,416 C224,394 251,398 263,425 C286,470 298,510 298,528 C298,541 286,544 270,544 L190,541 C205,500 205,450 214,416 Z" fill="url(#mhump)"/>
<ellipse cx="138" cy="478" rx="31" ry="15" fill="#0c0c0c"/>
<ellipse cx="150" cy="437" rx="36" ry="27" fill="url(#mball)"/>
<ellipse cx="150" cy="408" rx="35" ry="7.5" fill="#e0e0e0" stroke="#444" stroke-width="2"/>
<polygon points="36,352 72,330 241,358 236,377 213,397 38,366" fill="#8c8c8c" stroke="#333" stroke-width="2"/>
<polygon points="41,351 75,332 236,358 212,386" fill="#0e0e0e"/>
<rect x="108" y="298" width="21" height="40" fill="url(#mobj)" stroke="#555" stroke-width="2"/>
<rect x="142" y="303" width="23" height="43" fill="url(#mobj)" stroke="#555" stroke-width="2"/>
<g transform="translate(202,42) rotate(8.6)">
<rect x="-24" y="188" width="48" height="42" fill="url(#mtube2)" stroke="#333" stroke-width="2"/>
<rect x="-30" y="10" width="60" height="180" fill="url(#mtube)" stroke="#2a2a2a" stroke-width="2"/>
<rect x="-30" y="-2" width="60" height="14" fill="#1a1a1a"/>
<rect x="-26" y="-4" width="52" height="5" fill="#6a6a6a"/>
<rect x="-30" y="54" width="60" height="7" fill="#2a2a2a"/>
</g>
<path d="M93,284 C93,300 177,300 177,284 L165,300 L108,298 Z" fill="#8a8a8a"/>
<ellipse cx="135" cy="282" rx="43" ry="15" fill="#e9e9e9" stroke="#555" stroke-width="2.5"/>
<ellipse cx="133" cy="279" rx="30" ry="8" fill="#fbfbfb"/>
<ellipse cx="227" cy="160" rx="11" ry="17" fill="#2e2e2e"/>
<circle cx="178" cy="158" r="22" fill="url(#mball)"/>
</g>
</svg>
<div class="cl" style="top:512.45px;width:686.4px"><b>Figure 1.</b>&nbsp; Droplet microarray platform combining high-throughput solid-phase synthesis and cell-based screenings. A) Porous polymethacrylate thin film</div>
<div class="cl" style="top:525.60px;width:686.4px">(12 µm) is functionalized with fluoroalkyl and cysteamine moieties to generate SH and reactive HL regions, respectively. UV-cleavable linker (hydroxyethyl</div>
<div class="cl" style="top:538.75px;width:686.4px">photolinker, HEPL) is covalently immobilized in the HL spots, forming the basis for the following solid-phase combinatorial synthesis. B) Scheme showing</div>
<div class="cl" style="top:551.90px;width:686.4px">possible cell-based screening sequence: synthesized compounds can be released by UV irradiation at 365 nm ii) into distinct nanodroplets formed in the</div>
<div class="cl" style="top:565.05px;width:648.8px">HL spots to be either screened in biological assays (i) or analyzed, e.g., via MALDI-TOF mass spectrometry (iv) following a sandwiching step (iii).</div>
</body></html>
